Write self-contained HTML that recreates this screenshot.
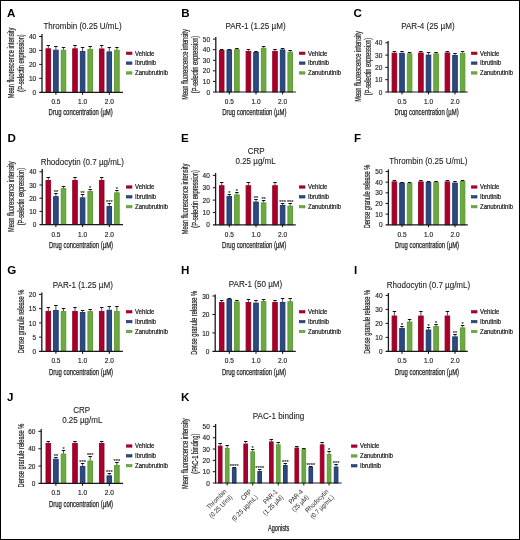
<!DOCTYPE html>
<html><head><meta charset="utf-8"><style>
html,body{margin:0;padding:0;background:#fff;}
body{width:520px;height:540px;overflow:hidden;}
svg{display:block;will-change:transform;font-family:"Liberation Sans",sans-serif;}
</style></head><body>
<svg width="520" height="540" viewBox="0 0 520 540" font-family="'Liberation Sans', sans-serif">
<rect x="0" y="0" width="520" height="540" fill="#fff"/>
<rect x="0.5" y="0.5" width="519" height="539" fill="none" stroke="#000" stroke-width="1"/>
<text x="6.90" y="16.70" font-size="11.6" font-weight="bold" fill="#000">A</text>
<text x="82.50" y="28.70" font-size="8.7" text-anchor="middle" textLength="78.25" lengthAdjust="spacingAndGlyphs" fill="#222" stroke="#222" stroke-width="0.1">Thrombin (0.25 U/mL)</text>
<text x="36.20" y="94.90" font-size="6.5" text-anchor="end" textLength="3.61" lengthAdjust="spacingAndGlyphs" fill="#222" stroke="#222" stroke-width="0.15">0</text>
<line x1="39.20" y1="78.35" x2="42.00" y2="78.35" stroke="#111" stroke-width="1.0"/>
<text x="36.20" y="80.95" font-size="6.5" text-anchor="end" textLength="7.23" lengthAdjust="spacingAndGlyphs" fill="#222" stroke="#222" stroke-width="0.15">10</text>
<line x1="39.20" y1="64.40" x2="42.00" y2="64.40" stroke="#111" stroke-width="1.0"/>
<text x="36.20" y="67.00" font-size="6.5" text-anchor="end" textLength="7.23" lengthAdjust="spacingAndGlyphs" fill="#222" stroke="#222" stroke-width="0.15">20</text>
<line x1="39.20" y1="50.45" x2="42.00" y2="50.45" stroke="#111" stroke-width="1.0"/>
<text x="36.20" y="53.05" font-size="6.5" text-anchor="end" textLength="7.23" lengthAdjust="spacingAndGlyphs" fill="#222" stroke="#222" stroke-width="0.15">30</text>
<line x1="39.20" y1="36.50" x2="42.00" y2="36.50" stroke="#111" stroke-width="1.0"/>
<text x="36.20" y="39.10" font-size="6.5" text-anchor="end" textLength="7.23" lengthAdjust="spacingAndGlyphs" fill="#222" stroke="#222" stroke-width="0.15">40</text>
<line x1="55.90" y1="92.30" x2="55.90" y2="94.70" stroke="#000" stroke-width="1.0"/>
<rect x="46.00" y="48.81" width="4.60" height="43.49" fill="#a8002c" stroke="#96001f" stroke-width="0.9"/>
<line x1="48.30" y1="45.50" x2="48.30" y2="48.36" stroke="#222" stroke-width="0.8"/>
<line x1="46.55" y1="45.50" x2="50.05" y2="45.50" stroke="#111" stroke-width="1.0"/>
<rect x="53.60" y="50.20" width="4.60" height="42.10" fill="#2c4a82" stroke="#1a3466" stroke-width="0.9"/>
<line x1="55.90" y1="46.50" x2="55.90" y2="49.75" stroke="#222" stroke-width="0.8"/>
<line x1="54.15" y1="46.50" x2="57.65" y2="46.50" stroke="#111" stroke-width="1.0"/>
<rect x="61.20" y="50.20" width="4.60" height="42.10" fill="#6ca942" stroke="#589a2d" stroke-width="0.9"/>
<line x1="63.50" y1="47.50" x2="63.50" y2="49.75" stroke="#222" stroke-width="0.8"/>
<line x1="61.75" y1="47.50" x2="65.25" y2="47.50" stroke="#111" stroke-width="1.0"/>
<line x1="82.60" y1="92.30" x2="82.60" y2="94.70" stroke="#000" stroke-width="1.0"/>
<rect x="72.70" y="48.81" width="4.60" height="43.49" fill="#a8002c" stroke="#96001f" stroke-width="0.9"/>
<line x1="75.00" y1="45.50" x2="75.00" y2="48.36" stroke="#222" stroke-width="0.8"/>
<line x1="73.25" y1="45.50" x2="76.75" y2="45.50" stroke="#111" stroke-width="1.0"/>
<rect x="80.30" y="51.46" width="4.60" height="40.84" fill="#2c4a82" stroke="#1a3466" stroke-width="0.9"/>
<line x1="82.60" y1="47.50" x2="82.60" y2="51.01" stroke="#222" stroke-width="0.8"/>
<line x1="80.85" y1="47.50" x2="84.35" y2="47.50" stroke="#111" stroke-width="1.0"/>
<rect x="87.90" y="49.37" width="4.60" height="42.93" fill="#6ca942" stroke="#589a2d" stroke-width="0.9"/>
<line x1="90.20" y1="46.50" x2="90.20" y2="48.92" stroke="#222" stroke-width="0.8"/>
<line x1="88.45" y1="46.50" x2="91.95" y2="46.50" stroke="#111" stroke-width="1.0"/>
<line x1="109.30" y1="92.30" x2="109.30" y2="94.70" stroke="#000" stroke-width="1.0"/>
<rect x="99.40" y="48.95" width="4.60" height="43.35" fill="#a8002c" stroke="#96001f" stroke-width="0.9"/>
<line x1="101.70" y1="45.50" x2="101.70" y2="48.50" stroke="#222" stroke-width="0.8"/>
<line x1="99.95" y1="45.50" x2="103.45" y2="45.50" stroke="#111" stroke-width="1.0"/>
<rect x="107.00" y="51.88" width="4.60" height="40.42" fill="#2c4a82" stroke="#1a3466" stroke-width="0.9"/>
<line x1="109.30" y1="47.50" x2="109.30" y2="51.43" stroke="#222" stroke-width="0.8"/>
<line x1="107.55" y1="47.50" x2="111.05" y2="47.50" stroke="#111" stroke-width="1.0"/>
<rect x="114.60" y="50.20" width="4.60" height="42.10" fill="#6ca942" stroke="#589a2d" stroke-width="0.9"/>
<line x1="116.90" y1="47.50" x2="116.90" y2="49.75" stroke="#222" stroke-width="0.8"/>
<line x1="115.15" y1="47.50" x2="118.65" y2="47.50" stroke="#111" stroke-width="1.0"/>
<line x1="42.00" y1="33.90" x2="42.00" y2="92.80" stroke="#1a1a1a" stroke-width="1.3"/>
<line x1="39.20" y1="92.30" x2="123.00" y2="92.30" stroke="#1a1a1a" stroke-width="1.15"/>
<text x="55.90" y="104.30" font-size="6.5" text-anchor="middle" textLength="9.04" lengthAdjust="spacingAndGlyphs" fill="#222" stroke="#222" stroke-width="0.15">0.5</text>
<text x="82.60" y="104.30" font-size="6.5" text-anchor="middle" textLength="9.04" lengthAdjust="spacingAndGlyphs" fill="#222" stroke="#222" stroke-width="0.15">1.0</text>
<text x="109.30" y="104.30" font-size="6.5" text-anchor="middle" textLength="9.04" lengthAdjust="spacingAndGlyphs" fill="#222" stroke="#222" stroke-width="0.15">2.0</text>
<text x="80.70" y="115.40" font-size="8.8" text-anchor="middle" textLength="64.20" lengthAdjust="spacingAndGlyphs" fill="#222" stroke="#222" stroke-width="0.25">Drug concentration (µM)</text>
<text transform="translate(13.90,63.00) rotate(-90)" x="0" y="0" font-size="8.5" text-anchor="middle" textLength="70.60" lengthAdjust="spacingAndGlyphs" fill="#222" stroke="#222" stroke-width="0.2">Mean fluorescence intensity</text>
<text transform="translate(23.90,63.00) rotate(-90)" x="0" y="0" font-size="8.5" text-anchor="middle" textLength="57.50" lengthAdjust="spacingAndGlyphs" fill="#222" stroke="#222" stroke-width="0.2">(P-selectin expression)</text>
<rect x="126.30" y="52.05" width="5.70" height="2.40" fill="#a8002c" stroke="#96001f" stroke-width="0.6"/>
<text x="135.00" y="55.50" font-size="6.4" textLength="19.48" lengthAdjust="spacingAndGlyphs" fill="#222" stroke="#222" stroke-width="0.22">Vehicle</text>
<rect x="126.30" y="61.90" width="5.70" height="2.40" fill="#2c4a82" stroke="#1a3466" stroke-width="0.6"/>
<text x="135.00" y="65.35" font-size="6.4" textLength="21.13" lengthAdjust="spacingAndGlyphs" fill="#222" stroke="#222" stroke-width="0.22">Ibrutinib</text>
<rect x="126.30" y="71.75" width="5.70" height="2.40" fill="#6ca942" stroke="#589a2d" stroke-width="0.6"/>
<text x="135.00" y="75.20" font-size="6.4" textLength="33.02" lengthAdjust="spacingAndGlyphs" fill="#222" stroke="#222" stroke-width="0.22">Zanubrutinib</text>
<text x="181.20" y="16.70" font-size="11.6" font-weight="bold" fill="#000">B</text>
<text x="255.50" y="28.70" font-size="8.7" text-anchor="middle" textLength="60.18" lengthAdjust="spacingAndGlyphs" fill="#222" stroke="#222" stroke-width="0.1">PAR-1 (1.25 µM)</text>
<text x="210.00" y="94.60" font-size="6.5" text-anchor="end" textLength="3.61" lengthAdjust="spacingAndGlyphs" fill="#222" stroke="#222" stroke-width="0.15">0</text>
<line x1="213.00" y1="81.42" x2="215.80" y2="81.42" stroke="#111" stroke-width="1.0"/>
<text x="210.00" y="84.02" font-size="6.5" text-anchor="end" textLength="7.23" lengthAdjust="spacingAndGlyphs" fill="#222" stroke="#222" stroke-width="0.15">10</text>
<line x1="213.00" y1="70.84" x2="215.80" y2="70.84" stroke="#111" stroke-width="1.0"/>
<text x="210.00" y="73.44" font-size="6.5" text-anchor="end" textLength="7.23" lengthAdjust="spacingAndGlyphs" fill="#222" stroke="#222" stroke-width="0.15">20</text>
<line x1="213.00" y1="60.26" x2="215.80" y2="60.26" stroke="#111" stroke-width="1.0"/>
<text x="210.00" y="62.86" font-size="6.5" text-anchor="end" textLength="7.23" lengthAdjust="spacingAndGlyphs" fill="#222" stroke="#222" stroke-width="0.15">30</text>
<line x1="213.00" y1="49.68" x2="215.80" y2="49.68" stroke="#111" stroke-width="1.0"/>
<text x="210.00" y="52.28" font-size="6.5" text-anchor="end" textLength="7.23" lengthAdjust="spacingAndGlyphs" fill="#222" stroke="#222" stroke-width="0.15">40</text>
<line x1="213.00" y1="39.10" x2="215.80" y2="39.10" stroke="#111" stroke-width="1.0"/>
<text x="210.00" y="41.70" font-size="6.5" text-anchor="end" textLength="7.23" lengthAdjust="spacingAndGlyphs" fill="#222" stroke="#222" stroke-width="0.15">50</text>
<line x1="229.30" y1="92.00" x2="229.30" y2="94.40" stroke="#000" stroke-width="1.0"/>
<rect x="219.40" y="50.55" width="4.60" height="41.45" fill="#a8002c" stroke="#96001f" stroke-width="0.9"/>
<line x1="221.70" y1="49.50" x2="221.70" y2="50.10" stroke="#222" stroke-width="0.8"/>
<line x1="219.95" y1="49.50" x2="223.45" y2="49.50" stroke="#111" stroke-width="1.0"/>
<rect x="227.00" y="50.13" width="4.60" height="41.87" fill="#2c4a82" stroke="#1a3466" stroke-width="0.9"/>
<line x1="229.30" y1="49.50" x2="229.30" y2="49.68" stroke="#222" stroke-width="0.8"/>
<line x1="227.55" y1="49.50" x2="231.05" y2="49.50" stroke="#111" stroke-width="1.0"/>
<rect x="234.60" y="49.71" width="4.60" height="42.29" fill="#6ca942" stroke="#589a2d" stroke-width="0.9"/>
<line x1="236.90" y1="48.50" x2="236.90" y2="49.26" stroke="#222" stroke-width="0.8"/>
<line x1="235.15" y1="48.50" x2="238.65" y2="48.50" stroke="#111" stroke-width="1.0"/>
<line x1="256.00" y1="92.00" x2="256.00" y2="94.40" stroke="#000" stroke-width="1.0"/>
<rect x="246.10" y="51.51" width="4.60" height="40.49" fill="#a8002c" stroke="#96001f" stroke-width="0.9"/>
<line x1="248.40" y1="49.50" x2="248.40" y2="51.06" stroke="#222" stroke-width="0.8"/>
<line x1="246.65" y1="49.50" x2="250.15" y2="49.50" stroke="#111" stroke-width="1.0"/>
<rect x="253.70" y="52.46" width="4.60" height="39.54" fill="#2c4a82" stroke="#1a3466" stroke-width="0.9"/>
<line x1="256.00" y1="51.50" x2="256.00" y2="52.01" stroke="#222" stroke-width="0.8"/>
<line x1="254.25" y1="51.50" x2="257.75" y2="51.50" stroke="#111" stroke-width="1.0"/>
<rect x="261.30" y="48.23" width="4.60" height="43.77" fill="#6ca942" stroke="#589a2d" stroke-width="0.9"/>
<line x1="263.60" y1="46.50" x2="263.60" y2="47.78" stroke="#222" stroke-width="0.8"/>
<line x1="261.85" y1="46.50" x2="265.35" y2="46.50" stroke="#111" stroke-width="1.0"/>
<line x1="282.60" y1="92.00" x2="282.60" y2="94.40" stroke="#000" stroke-width="1.0"/>
<rect x="272.70" y="51.51" width="4.60" height="40.49" fill="#a8002c" stroke="#96001f" stroke-width="0.9"/>
<line x1="275.00" y1="49.50" x2="275.00" y2="51.06" stroke="#222" stroke-width="0.8"/>
<line x1="273.25" y1="49.50" x2="276.75" y2="49.50" stroke="#111" stroke-width="1.0"/>
<rect x="280.30" y="49.92" width="4.60" height="42.08" fill="#2c4a82" stroke="#1a3466" stroke-width="0.9"/>
<line x1="282.60" y1="48.50" x2="282.60" y2="49.47" stroke="#222" stroke-width="0.8"/>
<line x1="280.85" y1="48.50" x2="284.35" y2="48.50" stroke="#111" stroke-width="1.0"/>
<rect x="287.90" y="52.14" width="4.60" height="39.86" fill="#6ca942" stroke="#589a2d" stroke-width="0.9"/>
<line x1="290.20" y1="50.50" x2="290.20" y2="51.69" stroke="#222" stroke-width="0.8"/>
<line x1="288.45" y1="50.50" x2="291.95" y2="50.50" stroke="#111" stroke-width="1.0"/>
<line x1="215.80" y1="36.90" x2="215.80" y2="92.50" stroke="#1a1a1a" stroke-width="1.3"/>
<line x1="213.00" y1="92.00" x2="295.90" y2="92.00" stroke="#1a1a1a" stroke-width="1.15"/>
<text x="229.30" y="104.00" font-size="6.5" text-anchor="middle" textLength="9.04" lengthAdjust="spacingAndGlyphs" fill="#222" stroke="#222" stroke-width="0.15">0.5</text>
<text x="256.00" y="104.00" font-size="6.5" text-anchor="middle" textLength="9.04" lengthAdjust="spacingAndGlyphs" fill="#222" stroke="#222" stroke-width="0.15">1.0</text>
<text x="282.60" y="104.00" font-size="6.5" text-anchor="middle" textLength="9.04" lengthAdjust="spacingAndGlyphs" fill="#222" stroke="#222" stroke-width="0.15">2.0</text>
<text x="254.30" y="115.10" font-size="8.8" text-anchor="middle" textLength="64.20" lengthAdjust="spacingAndGlyphs" fill="#222" stroke="#222" stroke-width="0.25">Drug concentration (µM)</text>
<text transform="translate(187.60,64.50) rotate(-90)" x="0" y="0" font-size="8.5" text-anchor="middle" textLength="70.60" lengthAdjust="spacingAndGlyphs" fill="#222" stroke="#222" stroke-width="0.2">Mean fluorescence intensity</text>
<text transform="translate(197.60,64.50) rotate(-90)" x="0" y="0" font-size="8.5" text-anchor="middle" textLength="57.50" lengthAdjust="spacingAndGlyphs" fill="#222" stroke="#222" stroke-width="0.2">(P-selectin expression)</text>
<rect x="299.30" y="52.05" width="5.70" height="2.40" fill="#a8002c" stroke="#96001f" stroke-width="0.6"/>
<text x="308.00" y="55.50" font-size="6.4" textLength="19.48" lengthAdjust="spacingAndGlyphs" fill="#222" stroke="#222" stroke-width="0.22">Vehicle</text>
<rect x="299.30" y="61.90" width="5.70" height="2.40" fill="#2c4a82" stroke="#1a3466" stroke-width="0.6"/>
<text x="308.00" y="65.35" font-size="6.4" textLength="21.13" lengthAdjust="spacingAndGlyphs" fill="#222" stroke="#222" stroke-width="0.22">Ibrutinib</text>
<rect x="299.30" y="71.75" width="5.70" height="2.40" fill="#6ca942" stroke="#589a2d" stroke-width="0.6"/>
<text x="308.00" y="75.20" font-size="6.4" textLength="33.02" lengthAdjust="spacingAndGlyphs" fill="#222" stroke="#222" stroke-width="0.22">Zanubrutinib</text>
<text x="353.50" y="16.70" font-size="11.6" font-weight="bold" fill="#000">C</text>
<text x="427.90" y="28.70" font-size="8.7" text-anchor="middle" textLength="53.51" lengthAdjust="spacingAndGlyphs" fill="#222" stroke="#222" stroke-width="0.1">PAR-4 (25 µM)</text>
<text x="382.30" y="94.60" font-size="6.5" text-anchor="end" textLength="3.61" lengthAdjust="spacingAndGlyphs" fill="#222" stroke="#222" stroke-width="0.15">0</text>
<line x1="385.30" y1="79.70" x2="388.10" y2="79.70" stroke="#111" stroke-width="1.0"/>
<text x="382.30" y="82.30" font-size="6.5" text-anchor="end" textLength="7.23" lengthAdjust="spacingAndGlyphs" fill="#222" stroke="#222" stroke-width="0.15">10</text>
<line x1="385.30" y1="67.40" x2="388.10" y2="67.40" stroke="#111" stroke-width="1.0"/>
<text x="382.30" y="70.00" font-size="6.5" text-anchor="end" textLength="7.23" lengthAdjust="spacingAndGlyphs" fill="#222" stroke="#222" stroke-width="0.15">20</text>
<line x1="385.30" y1="55.10" x2="388.10" y2="55.10" stroke="#111" stroke-width="1.0"/>
<text x="382.30" y="57.70" font-size="6.5" text-anchor="end" textLength="7.23" lengthAdjust="spacingAndGlyphs" fill="#222" stroke="#222" stroke-width="0.15">30</text>
<line x1="385.30" y1="42.80" x2="388.10" y2="42.80" stroke="#111" stroke-width="1.0"/>
<text x="382.30" y="45.40" font-size="6.5" text-anchor="end" textLength="7.23" lengthAdjust="spacingAndGlyphs" fill="#222" stroke="#222" stroke-width="0.15">40</text>
<line x1="402.00" y1="92.00" x2="402.00" y2="94.40" stroke="#000" stroke-width="1.0"/>
<rect x="392.10" y="53.21" width="4.60" height="38.79" fill="#a8002c" stroke="#96001f" stroke-width="0.9"/>
<line x1="394.40" y1="51.50" x2="394.40" y2="52.76" stroke="#222" stroke-width="0.8"/>
<line x1="392.65" y1="51.50" x2="396.15" y2="51.50" stroke="#111" stroke-width="1.0"/>
<rect x="399.70" y="53.34" width="4.60" height="38.66" fill="#2c4a82" stroke="#1a3466" stroke-width="0.9"/>
<line x1="402.00" y1="51.50" x2="402.00" y2="52.89" stroke="#222" stroke-width="0.8"/>
<line x1="400.25" y1="51.50" x2="403.75" y2="51.50" stroke="#111" stroke-width="1.0"/>
<rect x="407.30" y="53.83" width="4.60" height="38.17" fill="#6ca942" stroke="#589a2d" stroke-width="0.9"/>
<line x1="409.60" y1="52.50" x2="409.60" y2="53.38" stroke="#222" stroke-width="0.8"/>
<line x1="407.85" y1="52.50" x2="411.35" y2="52.50" stroke="#111" stroke-width="1.0"/>
<line x1="428.50" y1="92.00" x2="428.50" y2="94.40" stroke="#000" stroke-width="1.0"/>
<rect x="418.60" y="52.97" width="4.60" height="39.03" fill="#a8002c" stroke="#96001f" stroke-width="0.9"/>
<line x1="420.90" y1="51.50" x2="420.90" y2="52.52" stroke="#222" stroke-width="0.8"/>
<line x1="419.15" y1="51.50" x2="422.65" y2="51.50" stroke="#111" stroke-width="1.0"/>
<rect x="426.20" y="55.06" width="4.60" height="36.94" fill="#2c4a82" stroke="#1a3466" stroke-width="0.9"/>
<line x1="428.50" y1="52.50" x2="428.50" y2="54.61" stroke="#222" stroke-width="0.8"/>
<line x1="426.75" y1="52.50" x2="430.25" y2="52.50" stroke="#111" stroke-width="1.0"/>
<rect x="433.80" y="53.83" width="4.60" height="38.17" fill="#6ca942" stroke="#589a2d" stroke-width="0.9"/>
<line x1="436.10" y1="52.50" x2="436.10" y2="53.38" stroke="#222" stroke-width="0.8"/>
<line x1="434.35" y1="52.50" x2="437.85" y2="52.50" stroke="#111" stroke-width="1.0"/>
<line x1="455.00" y1="92.00" x2="455.00" y2="94.40" stroke="#000" stroke-width="1.0"/>
<rect x="445.10" y="52.97" width="4.60" height="39.03" fill="#a8002c" stroke="#96001f" stroke-width="0.9"/>
<line x1="447.40" y1="51.50" x2="447.40" y2="52.52" stroke="#222" stroke-width="0.8"/>
<line x1="445.65" y1="51.50" x2="449.15" y2="51.50" stroke="#111" stroke-width="1.0"/>
<rect x="452.70" y="55.43" width="4.60" height="36.57" fill="#2c4a82" stroke="#1a3466" stroke-width="0.9"/>
<line x1="455.00" y1="53.50" x2="455.00" y2="54.98" stroke="#222" stroke-width="0.8"/>
<line x1="453.25" y1="53.50" x2="456.75" y2="53.50" stroke="#111" stroke-width="1.0"/>
<rect x="460.30" y="53.34" width="4.60" height="38.66" fill="#6ca942" stroke="#589a2d" stroke-width="0.9"/>
<line x1="462.60" y1="51.50" x2="462.60" y2="52.89" stroke="#222" stroke-width="0.8"/>
<line x1="460.85" y1="51.50" x2="464.35" y2="51.50" stroke="#111" stroke-width="1.0"/>
<line x1="388.10" y1="41.00" x2="388.10" y2="92.50" stroke="#1a1a1a" stroke-width="1.3"/>
<line x1="385.30" y1="92.00" x2="467.70" y2="92.00" stroke="#1a1a1a" stroke-width="1.15"/>
<text x="402.00" y="104.00" font-size="6.5" text-anchor="middle" textLength="9.04" lengthAdjust="spacingAndGlyphs" fill="#222" stroke="#222" stroke-width="0.15">0.5</text>
<text x="428.50" y="104.00" font-size="6.5" text-anchor="middle" textLength="9.04" lengthAdjust="spacingAndGlyphs" fill="#222" stroke="#222" stroke-width="0.15">1.0</text>
<text x="455.00" y="104.00" font-size="6.5" text-anchor="middle" textLength="9.04" lengthAdjust="spacingAndGlyphs" fill="#222" stroke="#222" stroke-width="0.15">2.0</text>
<text x="426.60" y="115.10" font-size="8.8" text-anchor="middle" textLength="64.20" lengthAdjust="spacingAndGlyphs" fill="#222" stroke="#222" stroke-width="0.25">Drug concentration (µM)</text>
<text transform="translate(361.20,66.50) rotate(-90)" x="0" y="0" font-size="8.5" text-anchor="middle" textLength="70.60" lengthAdjust="spacingAndGlyphs" fill="#222" stroke="#222" stroke-width="0.2">Mean fluorescence intensity</text>
<text transform="translate(371.20,66.50) rotate(-90)" x="0" y="0" font-size="8.5" text-anchor="middle" textLength="57.50" lengthAdjust="spacingAndGlyphs" fill="#222" stroke="#222" stroke-width="0.2">(P-selectin expression)</text>
<rect x="471.30" y="52.05" width="5.70" height="2.40" fill="#a8002c" stroke="#96001f" stroke-width="0.6"/>
<text x="480.00" y="55.50" font-size="6.4" textLength="19.48" lengthAdjust="spacingAndGlyphs" fill="#222" stroke="#222" stroke-width="0.22">Vehicle</text>
<rect x="471.30" y="61.90" width="5.70" height="2.40" fill="#2c4a82" stroke="#1a3466" stroke-width="0.6"/>
<text x="480.00" y="65.35" font-size="6.4" textLength="21.13" lengthAdjust="spacingAndGlyphs" fill="#222" stroke="#222" stroke-width="0.22">Ibrutinib</text>
<rect x="471.30" y="71.75" width="5.70" height="2.40" fill="#6ca942" stroke="#589a2d" stroke-width="0.6"/>
<text x="480.00" y="75.20" font-size="6.4" textLength="33.02" lengthAdjust="spacingAndGlyphs" fill="#222" stroke="#222" stroke-width="0.22">Zanubrutinib</text>
<text x="7.40" y="142.10" font-size="11.6" font-weight="bold" fill="#000">D</text>
<text x="82.30" y="164.70" font-size="8.7" text-anchor="middle" textLength="83.31" lengthAdjust="spacingAndGlyphs" fill="#222" stroke="#222" stroke-width="0.1">Rhodocytin (0.7 µg/mL)</text>
<text x="36.45" y="227.20" font-size="6.5" text-anchor="end" textLength="3.61" lengthAdjust="spacingAndGlyphs" fill="#222" stroke="#222" stroke-width="0.15">0</text>
<line x1="39.45" y1="211.40" x2="42.25" y2="211.40" stroke="#111" stroke-width="1.0"/>
<text x="36.45" y="214.00" font-size="6.5" text-anchor="end" textLength="7.23" lengthAdjust="spacingAndGlyphs" fill="#222" stroke="#222" stroke-width="0.15">10</text>
<line x1="39.45" y1="198.20" x2="42.25" y2="198.20" stroke="#111" stroke-width="1.0"/>
<text x="36.45" y="200.80" font-size="6.5" text-anchor="end" textLength="7.23" lengthAdjust="spacingAndGlyphs" fill="#222" stroke="#222" stroke-width="0.15">20</text>
<line x1="39.45" y1="185.00" x2="42.25" y2="185.00" stroke="#111" stroke-width="1.0"/>
<text x="36.45" y="187.60" font-size="6.5" text-anchor="end" textLength="7.23" lengthAdjust="spacingAndGlyphs" fill="#222" stroke="#222" stroke-width="0.15">30</text>
<line x1="39.45" y1="171.80" x2="42.25" y2="171.80" stroke="#111" stroke-width="1.0"/>
<text x="36.45" y="174.40" font-size="6.5" text-anchor="end" textLength="7.23" lengthAdjust="spacingAndGlyphs" fill="#222" stroke="#222" stroke-width="0.15">40</text>
<line x1="55.90" y1="224.60" x2="55.90" y2="227.00" stroke="#000" stroke-width="1.0"/>
<rect x="46.00" y="180.43" width="4.60" height="44.17" fill="#a8002c" stroke="#96001f" stroke-width="0.9"/>
<line x1="48.30" y1="177.50" x2="48.30" y2="179.98" stroke="#222" stroke-width="0.8"/>
<line x1="46.55" y1="177.50" x2="50.05" y2="177.50" stroke="#111" stroke-width="1.0"/>
<rect x="53.60" y="196.67" width="4.60" height="27.93" fill="#2c4a82" stroke="#1a3466" stroke-width="0.9"/>
<line x1="55.90" y1="193.50" x2="55.90" y2="196.22" stroke="#222" stroke-width="0.8"/>
<line x1="54.15" y1="193.50" x2="57.65" y2="193.50" stroke="#111" stroke-width="1.0"/>
<text x="55.90" y="193.50" font-size="4.9" text-anchor="middle" textLength="4.40" lengthAdjust="spacingAndGlyphs" fill="#333" stroke="#333" stroke-width="0.15">**</text>
<rect x="61.20" y="188.62" width="4.60" height="35.98" fill="#6ca942" stroke="#589a2d" stroke-width="0.9"/>
<line x1="63.50" y1="186.50" x2="63.50" y2="188.17" stroke="#222" stroke-width="0.8"/>
<line x1="61.75" y1="186.50" x2="65.25" y2="186.50" stroke="#111" stroke-width="1.0"/>
<line x1="82.60" y1="224.60" x2="82.60" y2="227.00" stroke="#000" stroke-width="1.0"/>
<rect x="72.70" y="180.43" width="4.60" height="44.17" fill="#a8002c" stroke="#96001f" stroke-width="0.9"/>
<line x1="75.00" y1="177.50" x2="75.00" y2="179.98" stroke="#222" stroke-width="0.8"/>
<line x1="73.25" y1="177.50" x2="76.75" y2="177.50" stroke="#111" stroke-width="1.0"/>
<rect x="80.30" y="197.86" width="4.60" height="26.74" fill="#2c4a82" stroke="#1a3466" stroke-width="0.9"/>
<line x1="82.60" y1="194.50" x2="82.60" y2="197.41" stroke="#222" stroke-width="0.8"/>
<line x1="80.85" y1="194.50" x2="84.35" y2="194.50" stroke="#111" stroke-width="1.0"/>
<text x="82.60" y="194.50" font-size="4.9" text-anchor="middle" textLength="4.40" lengthAdjust="spacingAndGlyphs" fill="#333" stroke="#333" stroke-width="0.15">**</text>
<rect x="87.90" y="191.39" width="4.60" height="33.21" fill="#6ca942" stroke="#589a2d" stroke-width="0.9"/>
<line x1="90.20" y1="189.50" x2="90.20" y2="190.94" stroke="#222" stroke-width="0.8"/>
<line x1="88.45" y1="189.50" x2="91.95" y2="189.50" stroke="#111" stroke-width="1.0"/>
<text x="90.20" y="189.50" font-size="4.9" text-anchor="middle" textLength="2.20" lengthAdjust="spacingAndGlyphs" fill="#333" stroke="#333" stroke-width="0.15">*</text>
<line x1="109.30" y1="224.60" x2="109.30" y2="227.00" stroke="#000" stroke-width="1.0"/>
<rect x="99.40" y="180.43" width="4.60" height="44.17" fill="#a8002c" stroke="#96001f" stroke-width="0.9"/>
<line x1="101.70" y1="177.50" x2="101.70" y2="179.98" stroke="#222" stroke-width="0.8"/>
<line x1="99.95" y1="177.50" x2="103.45" y2="177.50" stroke="#111" stroke-width="1.0"/>
<rect x="107.00" y="206.57" width="4.60" height="18.03" fill="#2c4a82" stroke="#1a3466" stroke-width="0.9"/>
<line x1="109.30" y1="203.50" x2="109.30" y2="206.12" stroke="#222" stroke-width="0.8"/>
<line x1="107.55" y1="203.50" x2="111.05" y2="203.50" stroke="#111" stroke-width="1.0"/>
<text x="109.30" y="203.50" font-size="4.9" text-anchor="middle" textLength="6.60" lengthAdjust="spacingAndGlyphs" fill="#333" stroke="#333" stroke-width="0.15">***</text>
<rect x="114.60" y="192.84" width="4.60" height="31.76" fill="#6ca942" stroke="#589a2d" stroke-width="0.9"/>
<line x1="116.90" y1="190.50" x2="116.90" y2="192.39" stroke="#222" stroke-width="0.8"/>
<line x1="115.15" y1="190.50" x2="118.65" y2="190.50" stroke="#111" stroke-width="1.0"/>
<text x="116.90" y="190.50" font-size="4.9" text-anchor="middle" textLength="2.20" lengthAdjust="spacingAndGlyphs" fill="#333" stroke="#333" stroke-width="0.15">*</text>
<line x1="42.25" y1="169.00" x2="42.25" y2="225.10" stroke="#1a1a1a" stroke-width="1.3"/>
<line x1="39.45" y1="224.60" x2="123.00" y2="224.60" stroke="#1a1a1a" stroke-width="1.15"/>
<text x="55.90" y="236.60" font-size="6.5" text-anchor="middle" textLength="9.04" lengthAdjust="spacingAndGlyphs" fill="#222" stroke="#222" stroke-width="0.15">0.5</text>
<text x="82.60" y="236.60" font-size="6.5" text-anchor="middle" textLength="9.04" lengthAdjust="spacingAndGlyphs" fill="#222" stroke="#222" stroke-width="0.15">1.0</text>
<text x="109.30" y="236.60" font-size="6.5" text-anchor="middle" textLength="9.04" lengthAdjust="spacingAndGlyphs" fill="#222" stroke="#222" stroke-width="0.15">2.0</text>
<text x="81.00" y="247.70" font-size="8.8" text-anchor="middle" textLength="64.20" lengthAdjust="spacingAndGlyphs" fill="#222" stroke="#222" stroke-width="0.25">Drug concentration (µM)</text>
<text transform="translate(13.90,196.60) rotate(-90)" x="0" y="0" font-size="8.5" text-anchor="middle" textLength="70.60" lengthAdjust="spacingAndGlyphs" fill="#222" stroke="#222" stroke-width="0.2">Mean fluorescence intensity</text>
<text transform="translate(23.90,196.60) rotate(-90)" x="0" y="0" font-size="8.5" text-anchor="middle" textLength="57.50" lengthAdjust="spacingAndGlyphs" fill="#222" stroke="#222" stroke-width="0.2">(P-selectin expression)</text>
<rect x="126.30" y="185.80" width="5.70" height="2.40" fill="#a8002c" stroke="#96001f" stroke-width="0.6"/>
<text x="135.00" y="189.25" font-size="6.4" textLength="19.48" lengthAdjust="spacingAndGlyphs" fill="#222" stroke="#222" stroke-width="0.22">Vehicle</text>
<rect x="126.30" y="195.65" width="5.70" height="2.40" fill="#2c4a82" stroke="#1a3466" stroke-width="0.6"/>
<text x="135.00" y="199.10" font-size="6.4" textLength="21.13" lengthAdjust="spacingAndGlyphs" fill="#222" stroke="#222" stroke-width="0.22">Ibrutinib</text>
<rect x="126.30" y="205.50" width="5.70" height="2.40" fill="#6ca942" stroke="#589a2d" stroke-width="0.6"/>
<text x="135.00" y="208.95" font-size="6.4" textLength="33.02" lengthAdjust="spacingAndGlyphs" fill="#222" stroke="#222" stroke-width="0.22">Zanubrutinib</text>
<text x="181.00" y="142.10" font-size="11.6" font-weight="bold" fill="#000">E</text>
<text x="256.10" y="153.80" font-size="8.7" text-anchor="middle" textLength="16.89" lengthAdjust="spacingAndGlyphs" fill="#222" stroke="#222" stroke-width="0.1">CRP</text>
<text x="255.60" y="163.70" font-size="8.7" text-anchor="middle" textLength="40.19" lengthAdjust="spacingAndGlyphs" fill="#222" stroke="#222" stroke-width="0.1">0.25 µg/mL</text>
<text x="209.80" y="227.40" font-size="6.5" text-anchor="end" textLength="3.61" lengthAdjust="spacingAndGlyphs" fill="#222" stroke="#222" stroke-width="0.15">0</text>
<line x1="212.80" y1="212.45" x2="215.60" y2="212.45" stroke="#111" stroke-width="1.0"/>
<text x="209.80" y="215.05" font-size="6.5" text-anchor="end" textLength="7.23" lengthAdjust="spacingAndGlyphs" fill="#222" stroke="#222" stroke-width="0.15">10</text>
<line x1="212.80" y1="200.10" x2="215.60" y2="200.10" stroke="#111" stroke-width="1.0"/>
<text x="209.80" y="202.70" font-size="6.5" text-anchor="end" textLength="7.23" lengthAdjust="spacingAndGlyphs" fill="#222" stroke="#222" stroke-width="0.15">20</text>
<line x1="212.80" y1="187.75" x2="215.60" y2="187.75" stroke="#111" stroke-width="1.0"/>
<text x="209.80" y="190.35" font-size="6.5" text-anchor="end" textLength="7.23" lengthAdjust="spacingAndGlyphs" fill="#222" stroke="#222" stroke-width="0.15">30</text>
<line x1="212.80" y1="175.40" x2="215.60" y2="175.40" stroke="#111" stroke-width="1.0"/>
<text x="209.80" y="178.00" font-size="6.5" text-anchor="end" textLength="7.23" lengthAdjust="spacingAndGlyphs" fill="#222" stroke="#222" stroke-width="0.15">40</text>
<line x1="229.30" y1="224.80" x2="229.30" y2="227.20" stroke="#000" stroke-width="1.0"/>
<rect x="219.40" y="185.73" width="4.60" height="39.07" fill="#a8002c" stroke="#96001f" stroke-width="0.9"/>
<line x1="221.70" y1="182.50" x2="221.70" y2="185.28" stroke="#222" stroke-width="0.8"/>
<line x1="219.95" y1="182.50" x2="223.45" y2="182.50" stroke="#111" stroke-width="1.0"/>
<rect x="227.00" y="196.47" width="4.60" height="28.33" fill="#2c4a82" stroke="#1a3466" stroke-width="0.9"/>
<line x1="229.30" y1="194.50" x2="229.30" y2="196.02" stroke="#222" stroke-width="0.8"/>
<line x1="227.55" y1="194.50" x2="231.05" y2="194.50" stroke="#111" stroke-width="1.0"/>
<text x="229.30" y="194.50" font-size="4.9" text-anchor="middle" textLength="2.20" lengthAdjust="spacingAndGlyphs" fill="#333" stroke="#333" stroke-width="0.15">*</text>
<rect x="234.60" y="194.87" width="4.60" height="29.93" fill="#6ca942" stroke="#589a2d" stroke-width="0.9"/>
<line x1="236.90" y1="192.50" x2="236.90" y2="194.42" stroke="#222" stroke-width="0.8"/>
<line x1="235.15" y1="192.50" x2="238.65" y2="192.50" stroke="#111" stroke-width="1.0"/>
<text x="236.90" y="192.50" font-size="4.9" text-anchor="middle" textLength="2.20" lengthAdjust="spacingAndGlyphs" fill="#333" stroke="#333" stroke-width="0.15">*</text>
<line x1="256.00" y1="224.80" x2="256.00" y2="227.20" stroke="#000" stroke-width="1.0"/>
<rect x="246.10" y="185.73" width="4.60" height="39.07" fill="#a8002c" stroke="#96001f" stroke-width="0.9"/>
<line x1="248.40" y1="182.50" x2="248.40" y2="185.28" stroke="#222" stroke-width="0.8"/>
<line x1="246.65" y1="182.50" x2="250.15" y2="182.50" stroke="#111" stroke-width="1.0"/>
<rect x="253.70" y="202.03" width="4.60" height="22.77" fill="#2c4a82" stroke="#1a3466" stroke-width="0.9"/>
<line x1="256.00" y1="199.50" x2="256.00" y2="201.58" stroke="#222" stroke-width="0.8"/>
<line x1="254.25" y1="199.50" x2="257.75" y2="199.50" stroke="#111" stroke-width="1.0"/>
<text x="256.00" y="199.50" font-size="4.9" text-anchor="middle" textLength="4.40" lengthAdjust="spacingAndGlyphs" fill="#333" stroke="#333" stroke-width="0.15">**</text>
<rect x="261.30" y="202.90" width="4.60" height="21.90" fill="#6ca942" stroke="#589a2d" stroke-width="0.9"/>
<line x1="263.60" y1="200.50" x2="263.60" y2="202.45" stroke="#222" stroke-width="0.8"/>
<line x1="261.85" y1="200.50" x2="265.35" y2="200.50" stroke="#111" stroke-width="1.0"/>
<text x="263.60" y="200.50" font-size="4.9" text-anchor="middle" textLength="4.40" lengthAdjust="spacingAndGlyphs" fill="#333" stroke="#333" stroke-width="0.15">**</text>
<line x1="282.60" y1="224.80" x2="282.60" y2="227.20" stroke="#000" stroke-width="1.0"/>
<rect x="272.70" y="185.73" width="4.60" height="39.07" fill="#a8002c" stroke="#96001f" stroke-width="0.9"/>
<line x1="275.00" y1="182.50" x2="275.00" y2="185.28" stroke="#222" stroke-width="0.8"/>
<line x1="273.25" y1="182.50" x2="276.75" y2="182.50" stroke="#111" stroke-width="1.0"/>
<rect x="280.30" y="205.49" width="4.60" height="19.31" fill="#2c4a82" stroke="#1a3466" stroke-width="0.9"/>
<line x1="282.60" y1="203.50" x2="282.60" y2="205.04" stroke="#222" stroke-width="0.8"/>
<line x1="280.85" y1="203.50" x2="284.35" y2="203.50" stroke="#111" stroke-width="1.0"/>
<text x="282.60" y="203.50" font-size="4.9" text-anchor="middle" textLength="6.60" lengthAdjust="spacingAndGlyphs" fill="#333" stroke="#333" stroke-width="0.15">***</text>
<rect x="287.90" y="206.11" width="4.60" height="18.69" fill="#6ca942" stroke="#589a2d" stroke-width="0.9"/>
<line x1="290.20" y1="203.50" x2="290.20" y2="205.66" stroke="#222" stroke-width="0.8"/>
<line x1="288.45" y1="203.50" x2="291.95" y2="203.50" stroke="#111" stroke-width="1.0"/>
<text x="290.20" y="203.50" font-size="4.9" text-anchor="middle" textLength="6.60" lengthAdjust="spacingAndGlyphs" fill="#333" stroke="#333" stroke-width="0.15">***</text>
<line x1="215.60" y1="173.00" x2="215.60" y2="225.30" stroke="#1a1a1a" stroke-width="1.3"/>
<line x1="212.80" y1="224.80" x2="295.80" y2="224.80" stroke="#1a1a1a" stroke-width="1.15"/>
<text x="229.30" y="236.80" font-size="6.5" text-anchor="middle" textLength="9.04" lengthAdjust="spacingAndGlyphs" fill="#222" stroke="#222" stroke-width="0.15">0.5</text>
<text x="256.00" y="236.80" font-size="6.5" text-anchor="middle" textLength="9.04" lengthAdjust="spacingAndGlyphs" fill="#222" stroke="#222" stroke-width="0.15">1.0</text>
<text x="282.60" y="236.80" font-size="6.5" text-anchor="middle" textLength="9.04" lengthAdjust="spacingAndGlyphs" fill="#222" stroke="#222" stroke-width="0.15">2.0</text>
<text x="254.20" y="247.90" font-size="8.8" text-anchor="middle" textLength="64.20" lengthAdjust="spacingAndGlyphs" fill="#222" stroke="#222" stroke-width="0.25">Drug concentration (µM)</text>
<text transform="translate(187.60,198.90) rotate(-90)" x="0" y="0" font-size="8.5" text-anchor="middle" textLength="70.60" lengthAdjust="spacingAndGlyphs" fill="#222" stroke="#222" stroke-width="0.2">Mean fluorescence intensity</text>
<text transform="translate(197.60,198.90) rotate(-90)" x="0" y="0" font-size="8.5" text-anchor="middle" textLength="57.50" lengthAdjust="spacingAndGlyphs" fill="#222" stroke="#222" stroke-width="0.2">(P-selectin expression)</text>
<rect x="299.30" y="185.80" width="5.70" height="2.40" fill="#a8002c" stroke="#96001f" stroke-width="0.6"/>
<text x="308.00" y="189.25" font-size="6.4" textLength="19.48" lengthAdjust="spacingAndGlyphs" fill="#222" stroke="#222" stroke-width="0.22">Vehicle</text>
<rect x="299.30" y="195.65" width="5.70" height="2.40" fill="#2c4a82" stroke="#1a3466" stroke-width="0.6"/>
<text x="308.00" y="199.10" font-size="6.4" textLength="21.13" lengthAdjust="spacingAndGlyphs" fill="#222" stroke="#222" stroke-width="0.22">Ibrutinib</text>
<rect x="299.30" y="205.50" width="5.70" height="2.40" fill="#6ca942" stroke="#589a2d" stroke-width="0.6"/>
<text x="308.00" y="208.95" font-size="6.4" textLength="33.02" lengthAdjust="spacingAndGlyphs" fill="#222" stroke="#222" stroke-width="0.22">Zanubrutinib</text>
<text x="354.00" y="142.10" font-size="11.6" font-weight="bold" fill="#000">F</text>
<text x="428.30" y="164.30" font-size="8.7" text-anchor="middle" textLength="78.25" lengthAdjust="spacingAndGlyphs" fill="#222" stroke="#222" stroke-width="0.1">Thrombin (0.25 U/mL)</text>
<text x="382.60" y="227.40" font-size="6.5" text-anchor="end" textLength="3.61" lengthAdjust="spacingAndGlyphs" fill="#222" stroke="#222" stroke-width="0.15">0</text>
<line x1="385.60" y1="214.15" x2="388.40" y2="214.15" stroke="#111" stroke-width="1.0"/>
<text x="382.60" y="216.75" font-size="6.5" text-anchor="end" textLength="7.23" lengthAdjust="spacingAndGlyphs" fill="#222" stroke="#222" stroke-width="0.15">10</text>
<line x1="385.60" y1="203.50" x2="388.40" y2="203.50" stroke="#111" stroke-width="1.0"/>
<text x="382.60" y="206.10" font-size="6.5" text-anchor="end" textLength="7.23" lengthAdjust="spacingAndGlyphs" fill="#222" stroke="#222" stroke-width="0.15">20</text>
<line x1="385.60" y1="192.85" x2="388.40" y2="192.85" stroke="#111" stroke-width="1.0"/>
<text x="382.60" y="195.45" font-size="6.5" text-anchor="end" textLength="7.23" lengthAdjust="spacingAndGlyphs" fill="#222" stroke="#222" stroke-width="0.15">30</text>
<line x1="385.60" y1="182.20" x2="388.40" y2="182.20" stroke="#111" stroke-width="1.0"/>
<text x="382.60" y="184.80" font-size="6.5" text-anchor="end" textLength="7.23" lengthAdjust="spacingAndGlyphs" fill="#222" stroke="#222" stroke-width="0.15">40</text>
<line x1="385.60" y1="171.55" x2="388.40" y2="171.55" stroke="#111" stroke-width="1.0"/>
<text x="382.60" y="174.15" font-size="6.5" text-anchor="end" textLength="7.23" lengthAdjust="spacingAndGlyphs" fill="#222" stroke="#222" stroke-width="0.15">50</text>
<line x1="402.00" y1="224.80" x2="402.00" y2="227.20" stroke="#000" stroke-width="1.0"/>
<rect x="392.10" y="181.90" width="4.60" height="42.90" fill="#a8002c" stroke="#96001f" stroke-width="0.9"/>
<line x1="394.40" y1="180.50" x2="394.40" y2="181.45" stroke="#222" stroke-width="0.8"/>
<line x1="392.65" y1="180.50" x2="396.15" y2="180.50" stroke="#111" stroke-width="1.0"/>
<rect x="399.70" y="183.08" width="4.60" height="41.72" fill="#2c4a82" stroke="#1a3466" stroke-width="0.9"/>
<line x1="402.00" y1="182.50" x2="402.00" y2="182.63" stroke="#222" stroke-width="0.8"/>
<line x1="400.25" y1="182.50" x2="403.75" y2="182.50" stroke="#111" stroke-width="1.0"/>
<rect x="407.30" y="183.50" width="4.60" height="41.30" fill="#6ca942" stroke="#589a2d" stroke-width="0.9"/>
<line x1="409.60" y1="182.50" x2="409.60" y2="183.05" stroke="#222" stroke-width="0.8"/>
<line x1="407.85" y1="182.50" x2="411.35" y2="182.50" stroke="#111" stroke-width="1.0"/>
<line x1="428.50" y1="224.80" x2="428.50" y2="227.20" stroke="#000" stroke-width="1.0"/>
<rect x="418.60" y="181.90" width="4.60" height="42.90" fill="#a8002c" stroke="#96001f" stroke-width="0.9"/>
<line x1="420.90" y1="180.50" x2="420.90" y2="181.45" stroke="#222" stroke-width="0.8"/>
<line x1="419.15" y1="180.50" x2="422.65" y2="180.50" stroke="#111" stroke-width="1.0"/>
<rect x="426.20" y="182.44" width="4.60" height="42.36" fill="#2c4a82" stroke="#1a3466" stroke-width="0.9"/>
<line x1="428.50" y1="181.50" x2="428.50" y2="181.99" stroke="#222" stroke-width="0.8"/>
<line x1="426.75" y1="181.50" x2="430.25" y2="181.50" stroke="#111" stroke-width="1.0"/>
<rect x="433.80" y="182.44" width="4.60" height="42.36" fill="#6ca942" stroke="#589a2d" stroke-width="0.9"/>
<line x1="436.10" y1="181.50" x2="436.10" y2="181.99" stroke="#222" stroke-width="0.8"/>
<line x1="434.35" y1="181.50" x2="437.85" y2="181.50" stroke="#111" stroke-width="1.0"/>
<line x1="455.00" y1="224.80" x2="455.00" y2="227.20" stroke="#000" stroke-width="1.0"/>
<rect x="445.10" y="181.90" width="4.60" height="42.90" fill="#a8002c" stroke="#96001f" stroke-width="0.9"/>
<line x1="447.40" y1="180.50" x2="447.40" y2="181.45" stroke="#222" stroke-width="0.8"/>
<line x1="445.65" y1="180.50" x2="449.15" y2="180.50" stroke="#111" stroke-width="1.0"/>
<rect x="452.70" y="183.08" width="4.60" height="41.72" fill="#2c4a82" stroke="#1a3466" stroke-width="0.9"/>
<line x1="455.00" y1="181.50" x2="455.00" y2="182.63" stroke="#222" stroke-width="0.8"/>
<line x1="453.25" y1="181.50" x2="456.75" y2="181.50" stroke="#111" stroke-width="1.0"/>
<rect x="460.30" y="181.48" width="4.60" height="43.32" fill="#6ca942" stroke="#589a2d" stroke-width="0.9"/>
<line x1="462.60" y1="180.50" x2="462.60" y2="181.03" stroke="#222" stroke-width="0.8"/>
<line x1="460.85" y1="180.50" x2="464.35" y2="180.50" stroke="#111" stroke-width="1.0"/>
<line x1="388.40" y1="169.40" x2="388.40" y2="225.30" stroke="#1a1a1a" stroke-width="1.3"/>
<line x1="385.60" y1="224.80" x2="467.80" y2="224.80" stroke="#1a1a1a" stroke-width="1.15"/>
<text x="402.00" y="236.80" font-size="6.5" text-anchor="middle" textLength="9.04" lengthAdjust="spacingAndGlyphs" fill="#222" stroke="#222" stroke-width="0.15">0.5</text>
<text x="428.50" y="236.80" font-size="6.5" text-anchor="middle" textLength="9.04" lengthAdjust="spacingAndGlyphs" fill="#222" stroke="#222" stroke-width="0.15">1.0</text>
<text x="455.00" y="236.80" font-size="6.5" text-anchor="middle" textLength="9.04" lengthAdjust="spacingAndGlyphs" fill="#222" stroke="#222" stroke-width="0.15">2.0</text>
<text x="427.00" y="247.90" font-size="8.8" text-anchor="middle" textLength="64.20" lengthAdjust="spacingAndGlyphs" fill="#222" stroke="#222" stroke-width="0.25">Drug concentration (µM)</text>
<text transform="translate(370.10,196.50) rotate(-90)" x="0" y="0" font-size="8.5" text-anchor="middle" textLength="63.70" lengthAdjust="spacingAndGlyphs" fill="#222" stroke="#222" stroke-width="0.2">Dense granule release %</text>
<rect x="471.30" y="185.80" width="5.70" height="2.40" fill="#a8002c" stroke="#96001f" stroke-width="0.6"/>
<text x="480.00" y="189.25" font-size="6.4" textLength="19.48" lengthAdjust="spacingAndGlyphs" fill="#222" stroke="#222" stroke-width="0.22">Vehicle</text>
<rect x="471.30" y="195.65" width="5.70" height="2.40" fill="#2c4a82" stroke="#1a3466" stroke-width="0.6"/>
<text x="480.00" y="199.10" font-size="6.4" textLength="21.13" lengthAdjust="spacingAndGlyphs" fill="#222" stroke="#222" stroke-width="0.22">Ibrutinib</text>
<rect x="471.30" y="205.50" width="5.70" height="2.40" fill="#6ca942" stroke="#589a2d" stroke-width="0.6"/>
<text x="480.00" y="208.95" font-size="6.4" textLength="33.02" lengthAdjust="spacingAndGlyphs" fill="#222" stroke="#222" stroke-width="0.22">Zanubrutinib</text>
<text x="7.20" y="274.40" font-size="11.6" font-weight="bold" fill="#000">G</text>
<text x="82.80" y="287.70" font-size="8.7" text-anchor="middle" textLength="60.18" lengthAdjust="spacingAndGlyphs" fill="#222" stroke="#222" stroke-width="0.1">PAR-1 (1.25 µM)</text>
<text x="36.00" y="354.00" font-size="6.5" text-anchor="end" textLength="3.61" lengthAdjust="spacingAndGlyphs" fill="#222" stroke="#222" stroke-width="0.15">0</text>
<line x1="39.00" y1="337.15" x2="41.80" y2="337.15" stroke="#111" stroke-width="1.0"/>
<text x="36.00" y="339.75" font-size="6.5" text-anchor="end" textLength="3.61" lengthAdjust="spacingAndGlyphs" fill="#222" stroke="#222" stroke-width="0.15">5</text>
<line x1="39.00" y1="322.90" x2="41.80" y2="322.90" stroke="#111" stroke-width="1.0"/>
<text x="36.00" y="325.50" font-size="6.5" text-anchor="end" textLength="7.23" lengthAdjust="spacingAndGlyphs" fill="#222" stroke="#222" stroke-width="0.15">10</text>
<line x1="39.00" y1="308.65" x2="41.80" y2="308.65" stroke="#111" stroke-width="1.0"/>
<text x="36.00" y="311.25" font-size="6.5" text-anchor="end" textLength="7.23" lengthAdjust="spacingAndGlyphs" fill="#222" stroke="#222" stroke-width="0.15">15</text>
<line x1="39.00" y1="294.40" x2="41.80" y2="294.40" stroke="#111" stroke-width="1.0"/>
<text x="36.00" y="297.00" font-size="6.5" text-anchor="end" textLength="7.23" lengthAdjust="spacingAndGlyphs" fill="#222" stroke="#222" stroke-width="0.15">20</text>
<line x1="55.90" y1="351.40" x2="55.90" y2="353.80" stroke="#000" stroke-width="1.0"/>
<rect x="46.00" y="311.38" width="4.60" height="40.02" fill="#a8002c" stroke="#96001f" stroke-width="0.9"/>
<line x1="48.30" y1="307.50" x2="48.30" y2="310.93" stroke="#222" stroke-width="0.8"/>
<line x1="46.55" y1="307.50" x2="50.05" y2="307.50" stroke="#111" stroke-width="1.0"/>
<rect x="53.60" y="310.52" width="4.60" height="40.87" fill="#2c4a82" stroke="#1a3466" stroke-width="0.9"/>
<line x1="55.90" y1="305.50" x2="55.90" y2="310.07" stroke="#222" stroke-width="0.8"/>
<line x1="54.15" y1="305.50" x2="57.65" y2="305.50" stroke="#111" stroke-width="1.0"/>
<rect x="61.20" y="311.66" width="4.60" height="39.73" fill="#6ca942" stroke="#589a2d" stroke-width="0.9"/>
<line x1="63.50" y1="308.50" x2="63.50" y2="311.21" stroke="#222" stroke-width="0.8"/>
<line x1="61.75" y1="308.50" x2="65.25" y2="308.50" stroke="#111" stroke-width="1.0"/>
<line x1="82.60" y1="351.40" x2="82.60" y2="353.80" stroke="#000" stroke-width="1.0"/>
<rect x="72.70" y="311.38" width="4.60" height="40.02" fill="#a8002c" stroke="#96001f" stroke-width="0.9"/>
<line x1="75.00" y1="307.50" x2="75.00" y2="310.93" stroke="#222" stroke-width="0.8"/>
<line x1="73.25" y1="307.50" x2="76.75" y2="307.50" stroke="#111" stroke-width="1.0"/>
<rect x="80.30" y="312.52" width="4.60" height="38.88" fill="#2c4a82" stroke="#1a3466" stroke-width="0.9"/>
<line x1="82.60" y1="310.50" x2="82.60" y2="312.07" stroke="#222" stroke-width="0.8"/>
<line x1="80.85" y1="310.50" x2="84.35" y2="310.50" stroke="#111" stroke-width="1.0"/>
<rect x="87.90" y="311.66" width="4.60" height="39.73" fill="#6ca942" stroke="#589a2d" stroke-width="0.9"/>
<line x1="90.20" y1="309.50" x2="90.20" y2="311.21" stroke="#222" stroke-width="0.8"/>
<line x1="88.45" y1="309.50" x2="91.95" y2="309.50" stroke="#111" stroke-width="1.0"/>
<line x1="109.30" y1="351.40" x2="109.30" y2="353.80" stroke="#000" stroke-width="1.0"/>
<rect x="99.40" y="311.38" width="4.60" height="40.02" fill="#a8002c" stroke="#96001f" stroke-width="0.9"/>
<line x1="101.70" y1="307.50" x2="101.70" y2="310.93" stroke="#222" stroke-width="0.8"/>
<line x1="99.95" y1="307.50" x2="103.45" y2="307.50" stroke="#111" stroke-width="1.0"/>
<rect x="107.00" y="310.24" width="4.60" height="41.16" fill="#2c4a82" stroke="#1a3466" stroke-width="0.9"/>
<line x1="109.30" y1="306.50" x2="109.30" y2="309.79" stroke="#222" stroke-width="0.8"/>
<line x1="107.55" y1="306.50" x2="111.05" y2="306.50" stroke="#111" stroke-width="1.0"/>
<rect x="114.60" y="311.38" width="4.60" height="40.02" fill="#6ca942" stroke="#589a2d" stroke-width="0.9"/>
<line x1="116.90" y1="306.50" x2="116.90" y2="310.93" stroke="#222" stroke-width="0.8"/>
<line x1="115.15" y1="306.50" x2="118.65" y2="306.50" stroke="#111" stroke-width="1.0"/>
<line x1="41.80" y1="292.40" x2="41.80" y2="351.90" stroke="#1a1a1a" stroke-width="1.3"/>
<line x1="39.00" y1="351.40" x2="122.90" y2="351.40" stroke="#1a1a1a" stroke-width="1.15"/>
<text x="55.90" y="363.40" font-size="6.5" text-anchor="middle" textLength="9.04" lengthAdjust="spacingAndGlyphs" fill="#222" stroke="#222" stroke-width="0.15">0.5</text>
<text x="82.60" y="363.40" font-size="6.5" text-anchor="middle" textLength="9.04" lengthAdjust="spacingAndGlyphs" fill="#222" stroke="#222" stroke-width="0.15">1.0</text>
<text x="109.30" y="363.40" font-size="6.5" text-anchor="middle" textLength="9.04" lengthAdjust="spacingAndGlyphs" fill="#222" stroke="#222" stroke-width="0.15">2.0</text>
<text x="81.00" y="374.50" font-size="8.8" text-anchor="middle" textLength="64.20" lengthAdjust="spacingAndGlyphs" fill="#222" stroke="#222" stroke-width="0.25">Drug concentration (µM)</text>
<text transform="translate(24.00,321.50) rotate(-90)" x="0" y="0" font-size="8.5" text-anchor="middle" textLength="63.70" lengthAdjust="spacingAndGlyphs" fill="#222" stroke="#222" stroke-width="0.2">Dense granule release %</text>
<rect x="126.30" y="310.60" width="5.70" height="2.40" fill="#a8002c" stroke="#96001f" stroke-width="0.6"/>
<text x="135.00" y="314.05" font-size="6.4" textLength="19.48" lengthAdjust="spacingAndGlyphs" fill="#222" stroke="#222" stroke-width="0.22">Vehicle</text>
<rect x="126.30" y="320.45" width="5.70" height="2.40" fill="#2c4a82" stroke="#1a3466" stroke-width="0.6"/>
<text x="135.00" y="323.90" font-size="6.4" textLength="21.13" lengthAdjust="spacingAndGlyphs" fill="#222" stroke="#222" stroke-width="0.22">Ibrutinib</text>
<rect x="126.30" y="330.30" width="5.70" height="2.40" fill="#6ca942" stroke="#589a2d" stroke-width="0.6"/>
<text x="135.00" y="333.75" font-size="6.4" textLength="33.02" lengthAdjust="spacingAndGlyphs" fill="#222" stroke="#222" stroke-width="0.22">Zanubrutinib</text>
<text x="181.00" y="274.40" font-size="11.6" font-weight="bold" fill="#000">H</text>
<text x="255.50" y="287.30" font-size="8.7" text-anchor="middle" textLength="53.51" lengthAdjust="spacingAndGlyphs" fill="#222" stroke="#222" stroke-width="0.1">PAR-1 (50 µM)</text>
<text x="209.40" y="354.00" font-size="6.5" text-anchor="end" textLength="3.61" lengthAdjust="spacingAndGlyphs" fill="#222" stroke="#222" stroke-width="0.15">0</text>
<line x1="212.40" y1="332.93" x2="215.20" y2="332.93" stroke="#111" stroke-width="1.0"/>
<text x="209.40" y="335.53" font-size="6.5" text-anchor="end" textLength="7.23" lengthAdjust="spacingAndGlyphs" fill="#222" stroke="#222" stroke-width="0.15">10</text>
<line x1="212.40" y1="314.46" x2="215.20" y2="314.46" stroke="#111" stroke-width="1.0"/>
<text x="209.40" y="317.06" font-size="6.5" text-anchor="end" textLength="7.23" lengthAdjust="spacingAndGlyphs" fill="#222" stroke="#222" stroke-width="0.15">20</text>
<line x1="212.40" y1="295.99" x2="215.20" y2="295.99" stroke="#111" stroke-width="1.0"/>
<text x="209.40" y="298.59" font-size="6.5" text-anchor="end" textLength="7.23" lengthAdjust="spacingAndGlyphs" fill="#222" stroke="#222" stroke-width="0.15">30</text>
<line x1="229.30" y1="351.40" x2="229.30" y2="353.80" stroke="#000" stroke-width="1.0"/>
<rect x="219.40" y="302.54" width="4.60" height="48.86" fill="#a8002c" stroke="#96001f" stroke-width="0.9"/>
<line x1="221.70" y1="300.50" x2="221.70" y2="302.09" stroke="#222" stroke-width="0.8"/>
<line x1="219.95" y1="300.50" x2="223.45" y2="300.50" stroke="#111" stroke-width="1.0"/>
<rect x="227.00" y="299.40" width="4.60" height="52.00" fill="#2c4a82" stroke="#1a3466" stroke-width="0.9"/>
<line x1="229.30" y1="298.50" x2="229.30" y2="298.95" stroke="#222" stroke-width="0.8"/>
<line x1="227.55" y1="298.50" x2="231.05" y2="298.50" stroke="#111" stroke-width="1.0"/>
<rect x="234.60" y="301.98" width="4.60" height="49.42" fill="#6ca942" stroke="#589a2d" stroke-width="0.9"/>
<line x1="236.90" y1="300.50" x2="236.90" y2="301.53" stroke="#222" stroke-width="0.8"/>
<line x1="235.15" y1="300.50" x2="238.65" y2="300.50" stroke="#111" stroke-width="1.0"/>
<line x1="256.00" y1="351.40" x2="256.00" y2="353.80" stroke="#000" stroke-width="1.0"/>
<rect x="246.10" y="302.54" width="4.60" height="48.86" fill="#a8002c" stroke="#96001f" stroke-width="0.9"/>
<line x1="248.40" y1="299.50" x2="248.40" y2="302.09" stroke="#222" stroke-width="0.8"/>
<line x1="246.65" y1="299.50" x2="250.15" y2="299.50" stroke="#111" stroke-width="1.0"/>
<rect x="253.70" y="303.09" width="4.60" height="48.31" fill="#2c4a82" stroke="#1a3466" stroke-width="0.9"/>
<line x1="256.00" y1="300.50" x2="256.00" y2="302.64" stroke="#222" stroke-width="0.8"/>
<line x1="254.25" y1="300.50" x2="257.75" y2="300.50" stroke="#111" stroke-width="1.0"/>
<rect x="261.30" y="301.61" width="4.60" height="49.79" fill="#6ca942" stroke="#589a2d" stroke-width="0.9"/>
<line x1="263.60" y1="299.50" x2="263.60" y2="301.16" stroke="#222" stroke-width="0.8"/>
<line x1="261.85" y1="299.50" x2="265.35" y2="299.50" stroke="#111" stroke-width="1.0"/>
<line x1="282.60" y1="351.40" x2="282.60" y2="353.80" stroke="#000" stroke-width="1.0"/>
<rect x="272.70" y="302.54" width="4.60" height="48.86" fill="#a8002c" stroke="#96001f" stroke-width="0.9"/>
<line x1="275.00" y1="300.50" x2="275.00" y2="302.09" stroke="#222" stroke-width="0.8"/>
<line x1="273.25" y1="300.50" x2="276.75" y2="300.50" stroke="#111" stroke-width="1.0"/>
<rect x="280.30" y="302.54" width="4.60" height="48.86" fill="#2c4a82" stroke="#1a3466" stroke-width="0.9"/>
<line x1="282.60" y1="298.50" x2="282.60" y2="302.09" stroke="#222" stroke-width="0.8"/>
<line x1="280.85" y1="298.50" x2="284.35" y2="298.50" stroke="#111" stroke-width="1.0"/>
<rect x="287.90" y="301.80" width="4.60" height="49.60" fill="#6ca942" stroke="#589a2d" stroke-width="0.9"/>
<line x1="290.20" y1="298.50" x2="290.20" y2="301.35" stroke="#222" stroke-width="0.8"/>
<line x1="288.45" y1="298.50" x2="291.95" y2="298.50" stroke="#111" stroke-width="1.0"/>
<line x1="215.20" y1="294.40" x2="215.20" y2="351.90" stroke="#1a1a1a" stroke-width="1.3"/>
<line x1="212.40" y1="351.40" x2="295.80" y2="351.40" stroke="#1a1a1a" stroke-width="1.15"/>
<text x="229.30" y="363.40" font-size="6.5" text-anchor="middle" textLength="9.04" lengthAdjust="spacingAndGlyphs" fill="#222" stroke="#222" stroke-width="0.15">0.5</text>
<text x="256.00" y="363.40" font-size="6.5" text-anchor="middle" textLength="9.04" lengthAdjust="spacingAndGlyphs" fill="#222" stroke="#222" stroke-width="0.15">1.0</text>
<text x="282.60" y="363.40" font-size="6.5" text-anchor="middle" textLength="9.04" lengthAdjust="spacingAndGlyphs" fill="#222" stroke="#222" stroke-width="0.15">2.0</text>
<text x="254.00" y="374.50" font-size="8.8" text-anchor="middle" textLength="64.20" lengthAdjust="spacingAndGlyphs" fill="#222" stroke="#222" stroke-width="0.25">Drug concentration (µM)</text>
<text transform="translate(197.00,322.80) rotate(-90)" x="0" y="0" font-size="8.5" text-anchor="middle" textLength="63.70" lengthAdjust="spacingAndGlyphs" fill="#222" stroke="#222" stroke-width="0.2">Dense granule release %</text>
<rect x="299.30" y="310.60" width="5.70" height="2.40" fill="#a8002c" stroke="#96001f" stroke-width="0.6"/>
<text x="308.00" y="314.05" font-size="6.4" textLength="19.48" lengthAdjust="spacingAndGlyphs" fill="#222" stroke="#222" stroke-width="0.22">Vehicle</text>
<rect x="299.30" y="320.45" width="5.70" height="2.40" fill="#2c4a82" stroke="#1a3466" stroke-width="0.6"/>
<text x="308.00" y="323.90" font-size="6.4" textLength="21.13" lengthAdjust="spacingAndGlyphs" fill="#222" stroke="#222" stroke-width="0.22">Ibrutinib</text>
<rect x="299.30" y="330.30" width="5.70" height="2.40" fill="#6ca942" stroke="#589a2d" stroke-width="0.6"/>
<text x="308.00" y="333.75" font-size="6.4" textLength="33.02" lengthAdjust="spacingAndGlyphs" fill="#222" stroke="#222" stroke-width="0.22">Zanubrutinib</text>
<text x="354.00" y="274.40" font-size="11.6" font-weight="bold" fill="#000">I</text>
<text x="428.50" y="287.70" font-size="8.7" text-anchor="middle" textLength="83.31" lengthAdjust="spacingAndGlyphs" fill="#222" stroke="#222" stroke-width="0.1">Rhodocytin (0.7 µg/mL)</text>
<text x="382.60" y="354.00" font-size="6.5" text-anchor="end" textLength="3.61" lengthAdjust="spacingAndGlyphs" fill="#222" stroke="#222" stroke-width="0.15">0</text>
<line x1="385.60" y1="337.40" x2="388.40" y2="337.40" stroke="#111" stroke-width="1.0"/>
<text x="382.60" y="340.00" font-size="6.5" text-anchor="end" textLength="7.23" lengthAdjust="spacingAndGlyphs" fill="#222" stroke="#222" stroke-width="0.15">10</text>
<line x1="385.60" y1="323.40" x2="388.40" y2="323.40" stroke="#111" stroke-width="1.0"/>
<text x="382.60" y="326.00" font-size="6.5" text-anchor="end" textLength="7.23" lengthAdjust="spacingAndGlyphs" fill="#222" stroke="#222" stroke-width="0.15">20</text>
<line x1="385.60" y1="309.40" x2="388.40" y2="309.40" stroke="#111" stroke-width="1.0"/>
<text x="382.60" y="312.00" font-size="6.5" text-anchor="end" textLength="7.23" lengthAdjust="spacingAndGlyphs" fill="#222" stroke="#222" stroke-width="0.15">30</text>
<line x1="385.60" y1="295.40" x2="388.40" y2="295.40" stroke="#111" stroke-width="1.0"/>
<text x="382.60" y="298.00" font-size="6.5" text-anchor="end" textLength="7.23" lengthAdjust="spacingAndGlyphs" fill="#222" stroke="#222" stroke-width="0.15">40</text>
<line x1="402.00" y1="351.40" x2="402.00" y2="353.80" stroke="#000" stroke-width="1.0"/>
<rect x="392.10" y="316.01" width="4.60" height="35.39" fill="#a8002c" stroke="#96001f" stroke-width="0.9"/>
<line x1="394.40" y1="311.50" x2="394.40" y2="315.56" stroke="#222" stroke-width="0.8"/>
<line x1="392.65" y1="311.50" x2="396.15" y2="311.50" stroke="#111" stroke-width="1.0"/>
<rect x="399.70" y="328.47" width="4.60" height="22.93" fill="#2c4a82" stroke="#1a3466" stroke-width="0.9"/>
<line x1="402.00" y1="326.50" x2="402.00" y2="328.02" stroke="#222" stroke-width="0.8"/>
<line x1="400.25" y1="326.50" x2="403.75" y2="326.50" stroke="#111" stroke-width="1.0"/>
<text x="402.00" y="326.50" font-size="4.9" text-anchor="middle" textLength="2.20" lengthAdjust="spacingAndGlyphs" fill="#333" stroke="#333" stroke-width="0.15">*</text>
<rect x="407.30" y="322.03" width="4.60" height="29.37" fill="#6ca942" stroke="#589a2d" stroke-width="0.9"/>
<line x1="409.60" y1="319.50" x2="409.60" y2="321.58" stroke="#222" stroke-width="0.8"/>
<line x1="407.85" y1="319.50" x2="411.35" y2="319.50" stroke="#111" stroke-width="1.0"/>
<line x1="428.50" y1="351.40" x2="428.50" y2="353.80" stroke="#000" stroke-width="1.0"/>
<rect x="418.60" y="316.01" width="4.60" height="35.39" fill="#a8002c" stroke="#96001f" stroke-width="0.9"/>
<line x1="420.90" y1="311.50" x2="420.90" y2="315.56" stroke="#222" stroke-width="0.8"/>
<line x1="419.15" y1="311.50" x2="422.65" y2="311.50" stroke="#111" stroke-width="1.0"/>
<rect x="426.20" y="330.01" width="4.60" height="21.39" fill="#2c4a82" stroke="#1a3466" stroke-width="0.9"/>
<line x1="428.50" y1="327.50" x2="428.50" y2="329.56" stroke="#222" stroke-width="0.8"/>
<line x1="426.75" y1="327.50" x2="430.25" y2="327.50" stroke="#111" stroke-width="1.0"/>
<text x="428.50" y="327.50" font-size="4.9" text-anchor="middle" textLength="2.20" lengthAdjust="spacingAndGlyphs" fill="#333" stroke="#333" stroke-width="0.15">*</text>
<rect x="433.80" y="326.51" width="4.60" height="24.89" fill="#6ca942" stroke="#589a2d" stroke-width="0.9"/>
<line x1="436.10" y1="324.50" x2="436.10" y2="326.06" stroke="#222" stroke-width="0.8"/>
<line x1="434.35" y1="324.50" x2="437.85" y2="324.50" stroke="#111" stroke-width="1.0"/>
<text x="436.10" y="324.50" font-size="4.9" text-anchor="middle" textLength="2.20" lengthAdjust="spacingAndGlyphs" fill="#333" stroke="#333" stroke-width="0.15">*</text>
<line x1="455.00" y1="351.40" x2="455.00" y2="353.80" stroke="#000" stroke-width="1.0"/>
<rect x="445.10" y="316.01" width="4.60" height="35.39" fill="#a8002c" stroke="#96001f" stroke-width="0.9"/>
<line x1="447.40" y1="311.50" x2="447.40" y2="315.56" stroke="#222" stroke-width="0.8"/>
<line x1="445.65" y1="311.50" x2="449.15" y2="311.50" stroke="#111" stroke-width="1.0"/>
<rect x="452.70" y="336.87" width="4.60" height="14.53" fill="#2c4a82" stroke="#1a3466" stroke-width="0.9"/>
<line x1="455.00" y1="334.50" x2="455.00" y2="336.42" stroke="#222" stroke-width="0.8"/>
<line x1="453.25" y1="334.50" x2="456.75" y2="334.50" stroke="#111" stroke-width="1.0"/>
<text x="455.00" y="334.50" font-size="4.9" text-anchor="middle" textLength="4.40" lengthAdjust="spacingAndGlyphs" fill="#333" stroke="#333" stroke-width="0.15">**</text>
<rect x="460.30" y="327.91" width="4.60" height="23.49" fill="#6ca942" stroke="#589a2d" stroke-width="0.9"/>
<line x1="462.60" y1="325.50" x2="462.60" y2="327.46" stroke="#222" stroke-width="0.8"/>
<line x1="460.85" y1="325.50" x2="464.35" y2="325.50" stroke="#111" stroke-width="1.0"/>
<text x="462.60" y="325.50" font-size="4.9" text-anchor="middle" textLength="2.20" lengthAdjust="spacingAndGlyphs" fill="#333" stroke="#333" stroke-width="0.15">*</text>
<line x1="388.40" y1="293.00" x2="388.40" y2="351.90" stroke="#1a1a1a" stroke-width="1.3"/>
<line x1="385.60" y1="351.40" x2="467.80" y2="351.40" stroke="#1a1a1a" stroke-width="1.15"/>
<text x="402.00" y="363.40" font-size="6.5" text-anchor="middle" textLength="9.04" lengthAdjust="spacingAndGlyphs" fill="#222" stroke="#222" stroke-width="0.15">0.5</text>
<text x="428.50" y="363.40" font-size="6.5" text-anchor="middle" textLength="9.04" lengthAdjust="spacingAndGlyphs" fill="#222" stroke="#222" stroke-width="0.15">1.0</text>
<text x="455.00" y="363.40" font-size="6.5" text-anchor="middle" textLength="9.04" lengthAdjust="spacingAndGlyphs" fill="#222" stroke="#222" stroke-width="0.15">2.0</text>
<text x="427.00" y="374.50" font-size="8.8" text-anchor="middle" textLength="64.20" lengthAdjust="spacingAndGlyphs" fill="#222" stroke="#222" stroke-width="0.25">Drug concentration (µM)</text>
<text transform="translate(369.90,321.90) rotate(-90)" x="0" y="0" font-size="8.5" text-anchor="middle" textLength="63.70" lengthAdjust="spacingAndGlyphs" fill="#222" stroke="#222" stroke-width="0.2">Dense granule release %</text>
<rect x="471.30" y="310.60" width="5.70" height="2.40" fill="#a8002c" stroke="#96001f" stroke-width="0.6"/>
<text x="480.00" y="314.05" font-size="6.4" textLength="19.48" lengthAdjust="spacingAndGlyphs" fill="#222" stroke="#222" stroke-width="0.22">Vehicle</text>
<rect x="471.30" y="320.45" width="5.70" height="2.40" fill="#2c4a82" stroke="#1a3466" stroke-width="0.6"/>
<text x="480.00" y="323.90" font-size="6.4" textLength="21.13" lengthAdjust="spacingAndGlyphs" fill="#222" stroke="#222" stroke-width="0.22">Ibrutinib</text>
<rect x="471.30" y="330.30" width="5.70" height="2.40" fill="#6ca942" stroke="#589a2d" stroke-width="0.6"/>
<text x="480.00" y="333.75" font-size="6.4" textLength="33.02" lengthAdjust="spacingAndGlyphs" fill="#222" stroke="#222" stroke-width="0.22">Zanubrutinib</text>
<text x="6.90" y="401.00" font-size="11.6" font-weight="bold" fill="#000">J</text>
<text x="81.60" y="413.30" font-size="8.7" text-anchor="middle" textLength="16.89" lengthAdjust="spacingAndGlyphs" fill="#222" stroke="#222" stroke-width="0.1">CRP</text>
<text x="82.30" y="423.30" font-size="8.7" text-anchor="middle" textLength="40.19" lengthAdjust="spacingAndGlyphs" fill="#222" stroke="#222" stroke-width="0.1">0.25 µg/mL</text>
<text x="35.40" y="486.00" font-size="6.5" text-anchor="end" textLength="3.61" lengthAdjust="spacingAndGlyphs" fill="#222" stroke="#222" stroke-width="0.15">0</text>
<line x1="38.40" y1="466.06" x2="41.20" y2="466.06" stroke="#111" stroke-width="1.0"/>
<text x="35.40" y="468.66" font-size="6.5" text-anchor="end" textLength="7.23" lengthAdjust="spacingAndGlyphs" fill="#222" stroke="#222" stroke-width="0.15">20</text>
<line x1="38.40" y1="448.72" x2="41.20" y2="448.72" stroke="#111" stroke-width="1.0"/>
<text x="35.40" y="451.32" font-size="6.5" text-anchor="end" textLength="7.23" lengthAdjust="spacingAndGlyphs" fill="#222" stroke="#222" stroke-width="0.15">40</text>
<line x1="38.40" y1="431.38" x2="41.20" y2="431.38" stroke="#111" stroke-width="1.0"/>
<text x="35.40" y="433.98" font-size="6.5" text-anchor="end" textLength="7.23" lengthAdjust="spacingAndGlyphs" fill="#222" stroke="#222" stroke-width="0.15">60</text>
<line x1="55.90" y1="483.40" x2="55.90" y2="485.80" stroke="#000" stroke-width="1.0"/>
<rect x="46.00" y="443.45" width="4.60" height="39.95" fill="#a8002c" stroke="#96001f" stroke-width="0.9"/>
<line x1="48.30" y1="441.50" x2="48.30" y2="443.00" stroke="#222" stroke-width="0.8"/>
<line x1="46.55" y1="441.50" x2="50.05" y2="441.50" stroke="#111" stroke-width="1.0"/>
<rect x="53.60" y="459.23" width="4.60" height="24.17" fill="#2c4a82" stroke="#1a3466" stroke-width="0.9"/>
<line x1="55.90" y1="457.50" x2="55.90" y2="458.78" stroke="#222" stroke-width="0.8"/>
<line x1="54.15" y1="457.50" x2="57.65" y2="457.50" stroke="#111" stroke-width="1.0"/>
<text x="55.90" y="457.50" font-size="4.9" text-anchor="middle" textLength="4.40" lengthAdjust="spacingAndGlyphs" fill="#333" stroke="#333" stroke-width="0.15">**</text>
<rect x="61.20" y="454.03" width="4.60" height="29.37" fill="#6ca942" stroke="#589a2d" stroke-width="0.9"/>
<line x1="63.50" y1="450.50" x2="63.50" y2="453.58" stroke="#222" stroke-width="0.8"/>
<line x1="61.75" y1="450.50" x2="65.25" y2="450.50" stroke="#111" stroke-width="1.0"/>
<text x="63.50" y="450.50" font-size="4.9" text-anchor="middle" textLength="2.20" lengthAdjust="spacingAndGlyphs" fill="#333" stroke="#333" stroke-width="0.15">*</text>
<line x1="82.60" y1="483.40" x2="82.60" y2="485.80" stroke="#000" stroke-width="1.0"/>
<rect x="72.70" y="443.45" width="4.60" height="39.95" fill="#a8002c" stroke="#96001f" stroke-width="0.9"/>
<line x1="75.00" y1="441.50" x2="75.00" y2="443.00" stroke="#222" stroke-width="0.8"/>
<line x1="73.25" y1="441.50" x2="76.75" y2="441.50" stroke="#111" stroke-width="1.0"/>
<rect x="80.30" y="466.51" width="4.60" height="16.89" fill="#2c4a82" stroke="#1a3466" stroke-width="0.9"/>
<line x1="82.60" y1="463.50" x2="82.60" y2="466.06" stroke="#222" stroke-width="0.8"/>
<line x1="80.85" y1="463.50" x2="84.35" y2="463.50" stroke="#111" stroke-width="1.0"/>
<text x="82.60" y="463.50" font-size="4.9" text-anchor="middle" textLength="6.60" lengthAdjust="spacingAndGlyphs" fill="#333" stroke="#333" stroke-width="0.15">***</text>
<rect x="87.90" y="461.05" width="4.60" height="22.35" fill="#6ca942" stroke="#589a2d" stroke-width="0.9"/>
<line x1="90.20" y1="456.50" x2="90.20" y2="460.60" stroke="#222" stroke-width="0.8"/>
<line x1="88.45" y1="456.50" x2="91.95" y2="456.50" stroke="#111" stroke-width="1.0"/>
<text x="90.20" y="456.50" font-size="4.9" text-anchor="middle" textLength="6.60" lengthAdjust="spacingAndGlyphs" fill="#333" stroke="#333" stroke-width="0.15">***</text>
<line x1="109.30" y1="483.40" x2="109.30" y2="485.80" stroke="#000" stroke-width="1.0"/>
<rect x="99.40" y="443.45" width="4.60" height="39.95" fill="#a8002c" stroke="#96001f" stroke-width="0.9"/>
<line x1="101.70" y1="441.50" x2="101.70" y2="443.00" stroke="#222" stroke-width="0.8"/>
<line x1="99.95" y1="441.50" x2="103.45" y2="441.50" stroke="#111" stroke-width="1.0"/>
<rect x="107.00" y="475.87" width="4.60" height="7.53" fill="#2c4a82" stroke="#1a3466" stroke-width="0.9"/>
<line x1="109.30" y1="473.50" x2="109.30" y2="475.42" stroke="#222" stroke-width="0.8"/>
<line x1="107.55" y1="473.50" x2="111.05" y2="473.50" stroke="#111" stroke-width="1.0"/>
<text x="109.30" y="473.50" font-size="4.9" text-anchor="middle" textLength="6.60" lengthAdjust="spacingAndGlyphs" fill="#333" stroke="#333" stroke-width="0.15">***</text>
<rect x="114.60" y="465.47" width="4.60" height="17.93" fill="#6ca942" stroke="#589a2d" stroke-width="0.9"/>
<line x1="116.90" y1="462.50" x2="116.90" y2="465.02" stroke="#222" stroke-width="0.8"/>
<line x1="115.15" y1="462.50" x2="118.65" y2="462.50" stroke="#111" stroke-width="1.0"/>
<text x="116.90" y="462.50" font-size="4.9" text-anchor="middle" textLength="6.60" lengthAdjust="spacingAndGlyphs" fill="#333" stroke="#333" stroke-width="0.15">***</text>
<line x1="41.20" y1="429.00" x2="41.20" y2="483.90" stroke="#1a1a1a" stroke-width="1.3"/>
<line x1="38.40" y1="483.40" x2="123.10" y2="483.40" stroke="#1a1a1a" stroke-width="1.15"/>
<text x="55.90" y="495.40" font-size="6.5" text-anchor="middle" textLength="9.04" lengthAdjust="spacingAndGlyphs" fill="#222" stroke="#222" stroke-width="0.15">0.5</text>
<text x="82.60" y="495.40" font-size="6.5" text-anchor="middle" textLength="9.04" lengthAdjust="spacingAndGlyphs" fill="#222" stroke="#222" stroke-width="0.15">1.0</text>
<text x="109.30" y="495.40" font-size="6.5" text-anchor="middle" textLength="9.04" lengthAdjust="spacingAndGlyphs" fill="#222" stroke="#222" stroke-width="0.15">2.0</text>
<text x="81.00" y="506.50" font-size="8.8" text-anchor="middle" textLength="64.20" lengthAdjust="spacingAndGlyphs" fill="#222" stroke="#222" stroke-width="0.25">Drug concentration (µM)</text>
<text transform="translate(24.00,455.60) rotate(-90)" x="0" y="0" font-size="8.5" text-anchor="middle" textLength="63.70" lengthAdjust="spacingAndGlyphs" fill="#222" stroke="#222" stroke-width="0.2">Dense granule release %</text>
<rect x="126.30" y="444.80" width="5.70" height="2.40" fill="#a8002c" stroke="#96001f" stroke-width="0.6"/>
<text x="135.00" y="448.25" font-size="6.4" textLength="19.48" lengthAdjust="spacingAndGlyphs" fill="#222" stroke="#222" stroke-width="0.22">Vehicle</text>
<rect x="126.30" y="454.65" width="5.70" height="2.40" fill="#2c4a82" stroke="#1a3466" stroke-width="0.6"/>
<text x="135.00" y="458.10" font-size="6.4" textLength="21.13" lengthAdjust="spacingAndGlyphs" fill="#222" stroke="#222" stroke-width="0.22">Ibrutinib</text>
<rect x="126.30" y="464.50" width="5.70" height="2.40" fill="#6ca942" stroke="#589a2d" stroke-width="0.6"/>
<text x="135.00" y="467.95" font-size="6.4" textLength="33.02" lengthAdjust="spacingAndGlyphs" fill="#222" stroke="#222" stroke-width="0.22">Zanubrutinib</text>
<text x="181.00" y="401.00" font-size="11.6" font-weight="bold" fill="#000">K</text>
<text x="278.50" y="419.00" font-size="8.7" text-anchor="middle" textLength="51.59" lengthAdjust="spacingAndGlyphs" fill="#222" stroke="#222" stroke-width="0.1">PAC-1 binding</text>
<text x="209.80" y="485.60" font-size="6.5" text-anchor="end" textLength="3.61" lengthAdjust="spacingAndGlyphs" fill="#222" stroke="#222" stroke-width="0.15">0</text>
<line x1="212.80" y1="471.68" x2="215.60" y2="471.68" stroke="#111" stroke-width="1.0"/>
<text x="209.80" y="474.28" font-size="6.5" text-anchor="end" textLength="7.23" lengthAdjust="spacingAndGlyphs" fill="#222" stroke="#222" stroke-width="0.15">10</text>
<line x1="212.80" y1="460.36" x2="215.60" y2="460.36" stroke="#111" stroke-width="1.0"/>
<text x="209.80" y="462.96" font-size="6.5" text-anchor="end" textLength="7.23" lengthAdjust="spacingAndGlyphs" fill="#222" stroke="#222" stroke-width="0.15">20</text>
<line x1="212.80" y1="449.04" x2="215.60" y2="449.04" stroke="#111" stroke-width="1.0"/>
<text x="209.80" y="451.64" font-size="6.5" text-anchor="end" textLength="7.23" lengthAdjust="spacingAndGlyphs" fill="#222" stroke="#222" stroke-width="0.15">30</text>
<line x1="212.80" y1="437.72" x2="215.60" y2="437.72" stroke="#111" stroke-width="1.0"/>
<text x="209.80" y="440.32" font-size="6.5" text-anchor="end" textLength="7.23" lengthAdjust="spacingAndGlyphs" fill="#222" stroke="#222" stroke-width="0.15">40</text>
<line x1="212.80" y1="426.40" x2="215.60" y2="426.40" stroke="#111" stroke-width="1.0"/>
<text x="209.80" y="429.00" font-size="6.5" text-anchor="end" textLength="7.23" lengthAdjust="spacingAndGlyphs" fill="#222" stroke="#222" stroke-width="0.15">50</text>
<line x1="227.20" y1="483.00" x2="227.20" y2="485.40" stroke="#000" stroke-width="1.0"/>
<rect x="218.35" y="446.09" width="3.70" height="36.91" fill="#a8002c" stroke="#96001f" stroke-width="0.9"/>
<line x1="220.20" y1="443.50" x2="220.20" y2="445.64" stroke="#222" stroke-width="0.8"/>
<line x1="218.45" y1="443.50" x2="221.95" y2="443.50" stroke="#111" stroke-width="1.0"/>
<rect x="225.35" y="448.47" width="3.70" height="34.53" fill="#6ca942" stroke="#589a2d" stroke-width="0.9"/>
<line x1="227.20" y1="445.50" x2="227.20" y2="448.02" stroke="#222" stroke-width="0.8"/>
<line x1="225.45" y1="445.50" x2="228.95" y2="445.50" stroke="#111" stroke-width="1.0"/>
<rect x="232.35" y="468.05" width="3.70" height="14.95" fill="#2c4a82" stroke="#1a3466" stroke-width="0.9"/>
<line x1="234.20" y1="467.50" x2="234.20" y2="467.60" stroke="#222" stroke-width="0.8"/>
<line x1="232.45" y1="467.50" x2="235.95" y2="467.50" stroke="#111" stroke-width="1.0"/>
<text x="234.20" y="467.50" font-size="4.9" text-anchor="middle" textLength="8.80" lengthAdjust="spacingAndGlyphs" fill="#333" stroke="#333" stroke-width="0.15">****</text>
<line x1="252.70" y1="483.00" x2="252.70" y2="485.40" stroke="#000" stroke-width="1.0"/>
<rect x="243.85" y="444.06" width="3.70" height="38.94" fill="#a8002c" stroke="#96001f" stroke-width="0.9"/>
<line x1="245.70" y1="441.50" x2="245.70" y2="443.61" stroke="#222" stroke-width="0.8"/>
<line x1="243.95" y1="441.50" x2="247.45" y2="441.50" stroke="#111" stroke-width="1.0"/>
<rect x="250.85" y="451.87" width="3.70" height="31.13" fill="#6ca942" stroke="#589a2d" stroke-width="0.9"/>
<line x1="252.70" y1="449.50" x2="252.70" y2="451.42" stroke="#222" stroke-width="0.8"/>
<line x1="250.95" y1="449.50" x2="254.45" y2="449.50" stroke="#111" stroke-width="1.0"/>
<text x="252.70" y="449.50" font-size="4.9" text-anchor="middle" textLength="2.20" lengthAdjust="spacingAndGlyphs" fill="#333" stroke="#333" stroke-width="0.15">*</text>
<rect x="257.85" y="471.45" width="3.70" height="11.55" fill="#2c4a82" stroke="#1a3466" stroke-width="0.9"/>
<line x1="259.70" y1="469.50" x2="259.70" y2="471.00" stroke="#222" stroke-width="0.8"/>
<line x1="257.95" y1="469.50" x2="261.45" y2="469.50" stroke="#111" stroke-width="1.0"/>
<text x="259.70" y="469.50" font-size="4.9" text-anchor="middle" textLength="8.80" lengthAdjust="spacingAndGlyphs" fill="#333" stroke="#333" stroke-width="0.15">****</text>
<line x1="278.30" y1="483.00" x2="278.30" y2="485.40" stroke="#000" stroke-width="1.0"/>
<rect x="269.45" y="441.91" width="3.70" height="41.09" fill="#a8002c" stroke="#96001f" stroke-width="0.9"/>
<line x1="271.30" y1="439.50" x2="271.30" y2="441.46" stroke="#222" stroke-width="0.8"/>
<line x1="269.55" y1="439.50" x2="273.05" y2="439.50" stroke="#111" stroke-width="1.0"/>
<rect x="276.45" y="444.85" width="3.70" height="38.15" fill="#6ca942" stroke="#589a2d" stroke-width="0.9"/>
<line x1="278.30" y1="442.50" x2="278.30" y2="444.40" stroke="#222" stroke-width="0.8"/>
<line x1="276.55" y1="442.50" x2="280.05" y2="442.50" stroke="#111" stroke-width="1.0"/>
<rect x="283.45" y="465.45" width="3.70" height="17.55" fill="#2c4a82" stroke="#1a3466" stroke-width="0.9"/>
<line x1="285.30" y1="463.50" x2="285.30" y2="465.00" stroke="#222" stroke-width="0.8"/>
<line x1="283.55" y1="463.50" x2="287.05" y2="463.50" stroke="#111" stroke-width="1.0"/>
<text x="285.30" y="463.50" font-size="4.9" text-anchor="middle" textLength="6.60" lengthAdjust="spacingAndGlyphs" fill="#333" stroke="#333" stroke-width="0.15">***</text>
<line x1="303.80" y1="483.00" x2="303.80" y2="485.40" stroke="#000" stroke-width="1.0"/>
<rect x="294.95" y="448.02" width="3.70" height="34.98" fill="#a8002c" stroke="#96001f" stroke-width="0.9"/>
<line x1="296.80" y1="446.50" x2="296.80" y2="447.57" stroke="#222" stroke-width="0.8"/>
<line x1="295.05" y1="446.50" x2="298.55" y2="446.50" stroke="#111" stroke-width="1.0"/>
<rect x="301.95" y="449.49" width="3.70" height="33.51" fill="#6ca942" stroke="#589a2d" stroke-width="0.9"/>
<line x1="303.80" y1="448.50" x2="303.80" y2="449.04" stroke="#222" stroke-width="0.8"/>
<line x1="302.05" y1="448.50" x2="305.55" y2="448.50" stroke="#111" stroke-width="1.0"/>
<rect x="308.95" y="467.49" width="3.70" height="15.51" fill="#2c4a82" stroke="#1a3466" stroke-width="0.9"/>
<line x1="310.80" y1="466.50" x2="310.80" y2="467.04" stroke="#222" stroke-width="0.8"/>
<line x1="309.05" y1="466.50" x2="312.55" y2="466.50" stroke="#111" stroke-width="1.0"/>
<text x="310.80" y="466.50" font-size="4.9" text-anchor="middle" textLength="8.80" lengthAdjust="spacingAndGlyphs" fill="#333" stroke="#333" stroke-width="0.15">****</text>
<line x1="329.10" y1="483.00" x2="329.10" y2="485.40" stroke="#000" stroke-width="1.0"/>
<rect x="320.25" y="444.85" width="3.70" height="38.15" fill="#a8002c" stroke="#96001f" stroke-width="0.9"/>
<line x1="322.10" y1="442.50" x2="322.10" y2="444.40" stroke="#222" stroke-width="0.8"/>
<line x1="320.35" y1="442.50" x2="323.85" y2="442.50" stroke="#111" stroke-width="1.0"/>
<rect x="327.25" y="454.47" width="3.70" height="28.53" fill="#6ca942" stroke="#589a2d" stroke-width="0.9"/>
<line x1="329.10" y1="451.50" x2="329.10" y2="454.02" stroke="#222" stroke-width="0.8"/>
<line x1="327.35" y1="451.50" x2="330.85" y2="451.50" stroke="#111" stroke-width="1.0"/>
<text x="329.10" y="451.50" font-size="4.9" text-anchor="middle" textLength="2.20" lengthAdjust="spacingAndGlyphs" fill="#333" stroke="#333" stroke-width="0.15">*</text>
<rect x="334.25" y="467.04" width="3.70" height="15.96" fill="#2c4a82" stroke="#1a3466" stroke-width="0.9"/>
<line x1="336.10" y1="464.50" x2="336.10" y2="466.59" stroke="#222" stroke-width="0.8"/>
<line x1="334.35" y1="464.50" x2="337.85" y2="464.50" stroke="#111" stroke-width="1.0"/>
<text x="336.10" y="464.50" font-size="4.9" text-anchor="middle" textLength="6.60" lengthAdjust="spacingAndGlyphs" fill="#333" stroke="#333" stroke-width="0.15">***</text>
<line x1="215.60" y1="424.00" x2="215.60" y2="483.50" stroke="#1a1a1a" stroke-width="1.3"/>
<line x1="212.80" y1="483.00" x2="341.60" y2="483.00" stroke="#1a1a1a" stroke-width="1.15"/>
<text x="278.70" y="530.50" font-size="8.8" text-anchor="middle" textLength="21.30" lengthAdjust="spacingAndGlyphs" fill="#222" stroke="#222" stroke-width="0.25">Agonists</text>
<text transform="translate(187.60,453.70) rotate(-90)" x="0" y="0" font-size="8.5" text-anchor="middle" textLength="70.60" lengthAdjust="spacingAndGlyphs" fill="#222" stroke="#222" stroke-width="0.2">Mean fluorescence intensity</text>
<text transform="translate(197.60,453.70) rotate(-90)" x="0" y="0" font-size="8.5" text-anchor="middle" textLength="40.00" lengthAdjust="spacingAndGlyphs" fill="#222" stroke="#222" stroke-width="0.2">(PAC-1 binding)</text>
<rect x="351.30" y="444.90" width="5.70" height="2.40" fill="#a8002c" stroke="#96001f" stroke-width="0.6"/>
<text x="360.00" y="448.35" font-size="6.4" textLength="19.48" lengthAdjust="spacingAndGlyphs" fill="#222" stroke="#222" stroke-width="0.22">Vehicle</text>
<rect x="351.30" y="454.75" width="5.70" height="2.40" fill="#6ca942" stroke="#589a2d" stroke-width="0.6"/>
<text x="360.00" y="458.20" font-size="6.4" textLength="33.02" lengthAdjust="spacingAndGlyphs" fill="#222" stroke="#222" stroke-width="0.22">Zanubrutinib</text>
<rect x="351.30" y="464.60" width="5.70" height="2.40" fill="#2c4a82" stroke="#1a3466" stroke-width="0.6"/>
<text x="360.00" y="468.05" font-size="6.4" textLength="21.13" lengthAdjust="spacingAndGlyphs" fill="#222" stroke="#222" stroke-width="0.22">Ibrutinib</text>
<g transform="translate(226.90,492.00) rotate(-45)">
<text x="0" y="0" font-size="6.6" text-anchor="end" fill="#222" textLength="25.09" lengthAdjust="spacingAndGlyphs">Thrombin</text>
<text x="0" y="8.0" font-size="6.6" text-anchor="end" fill="#222" textLength="29.38" lengthAdjust="spacingAndGlyphs">(0.25 U/ml)</text>
</g>
<g transform="translate(252.40,492.00) rotate(-45)">
<text x="0" y="0" font-size="6.6" text-anchor="end" fill="#222" textLength="12.54" lengthAdjust="spacingAndGlyphs">CRP</text>
<text x="0" y="8.0" font-size="6.6" text-anchor="end" fill="#222" textLength="33.80" lengthAdjust="spacingAndGlyphs">(0.25 µg/mL)</text>
</g>
<g transform="translate(278.00,492.00) rotate(-45)">
<text x="0" y="0" font-size="6.6" text-anchor="end" fill="#222" textLength="17.50" lengthAdjust="spacingAndGlyphs">PAR-1</text>
<text x="0" y="8.0" font-size="6.6" text-anchor="end" fill="#222" textLength="25.54" lengthAdjust="spacingAndGlyphs">(1.25 µM)</text>
</g>
<g transform="translate(303.50,492.00) rotate(-45)">
<text x="0" y="0" font-size="6.6" text-anchor="end" fill="#222" textLength="17.50" lengthAdjust="spacingAndGlyphs">PAR-4</text>
<text x="0" y="8.0" font-size="6.6" text-anchor="end" fill="#222" textLength="20.58" lengthAdjust="spacingAndGlyphs">(25 µM)</text>
</g>
<g transform="translate(328.80,492.00) rotate(-45)">
<text x="0" y="0" font-size="6.6" text-anchor="end" fill="#222" textLength="29.72" lengthAdjust="spacingAndGlyphs">Rhodocytin</text>
<text x="0" y="8.0" font-size="6.6" text-anchor="end" fill="#222" textLength="30.49" lengthAdjust="spacingAndGlyphs">(0.7 µg/mL)</text>
</g>
</svg>
</body></html>
